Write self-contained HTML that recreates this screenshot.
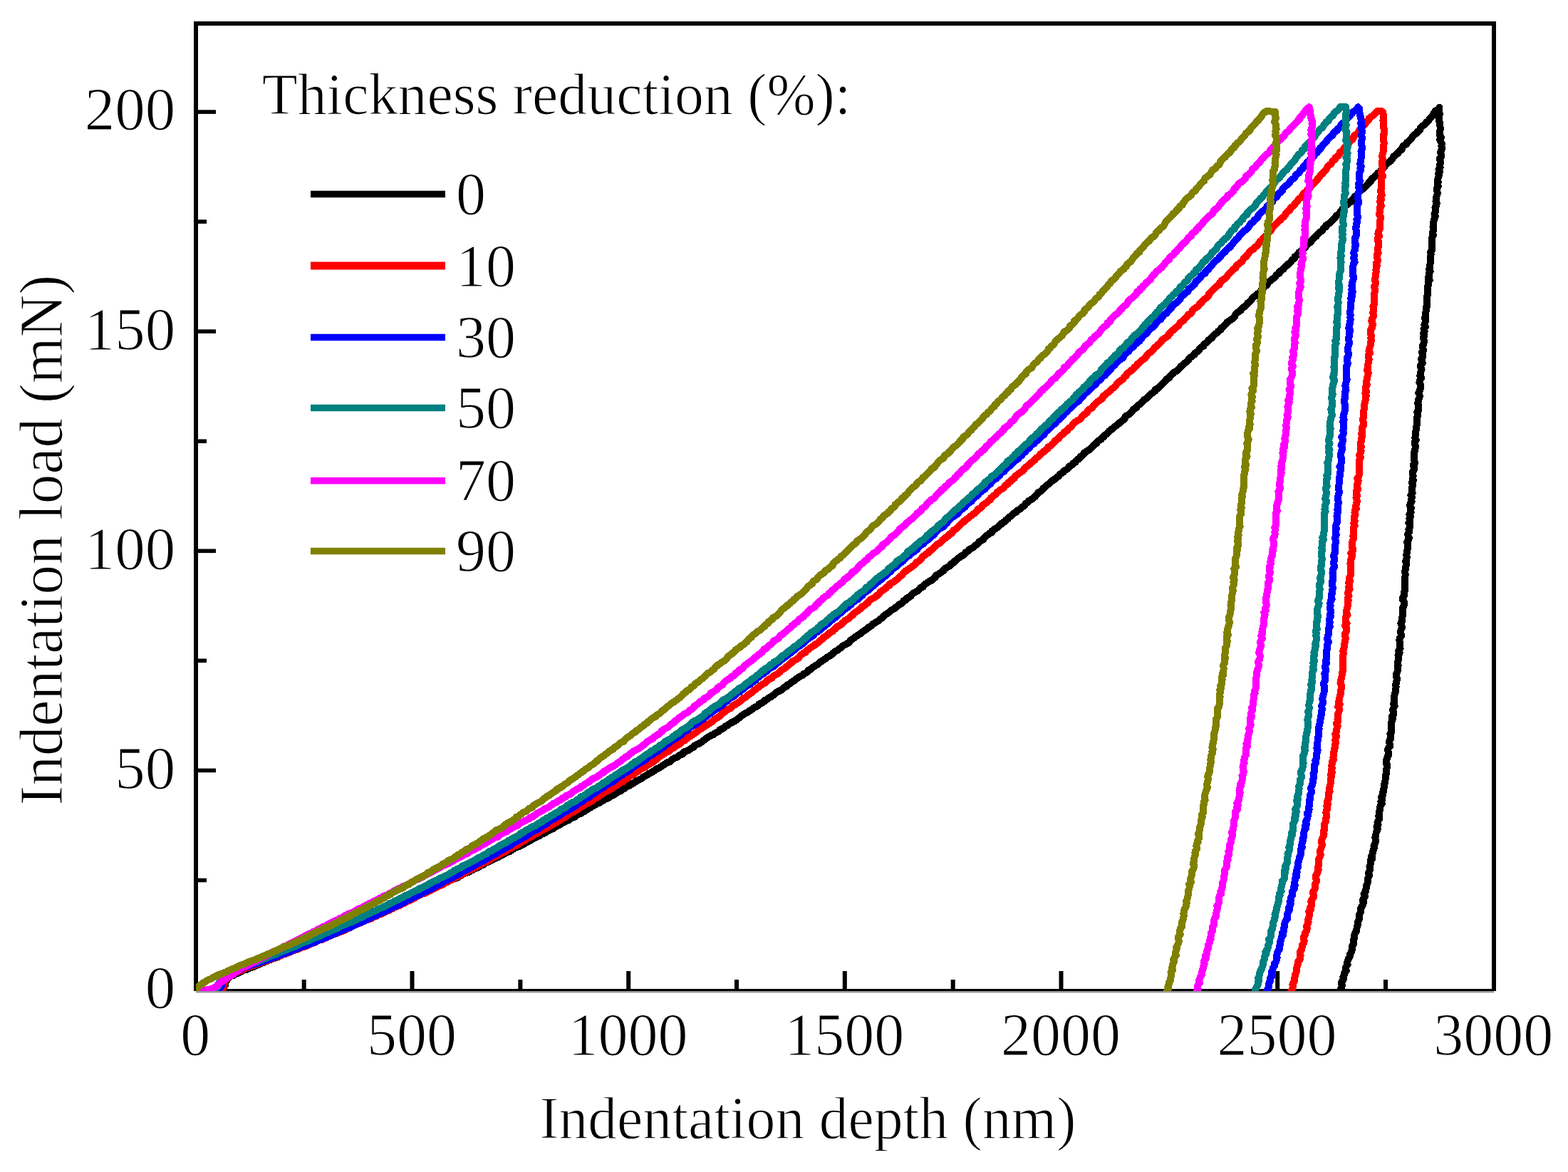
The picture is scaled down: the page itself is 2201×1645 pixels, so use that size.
<!DOCTYPE html>
<html><head><meta charset="utf-8"><title>Indentation load-depth curves</title>
<style>html,body{margin:0;padding:0;background:#fff;}svg{display:block;}svg text{stroke:#fff;stroke-width:1.2px;}</style></head>
<body>
<svg width="2201" height="1645" viewBox="0 0 2201 1645">
<rect x="0" y="0" width="2201" height="1645" fill="#ffffff"/>
<defs><clipPath id="pa"><rect x="275" y="36" width="1819" height="1355"/></clipPath></defs>

<g fill="#000">
<rect x="272" y="30" width="6" height="1361"/>
<rect x="272" y="30" width="1828" height="6"/>
<rect x="2094" y="30" width="6" height="1361"/>
<rect x="272" y="1388" width="1828" height="3"/>
</g>
<rect x="275" y="1391" width="1822" height="2.5" fill="#999"/>
<g fill="#000">
<rect x="278" y="1078.6" width="25" height="5.6"/>
<rect x="278" y="770.5" width="25" height="5.6"/>
<rect x="278" y="462.4" width="25" height="5.6"/>
<rect x="278" y="154.3" width="25" height="5.6"/>
<rect x="278" y="1232.7" width="12" height="5.6"/>
<rect x="278" y="924.5" width="12" height="5.6"/>
<rect x="278" y="616.5" width="12" height="5.6"/>
<rect x="278" y="308.3" width="12" height="5.6"/>
<rect x="575.5" y="1363" width="6" height="26"/>
<rect x="879.2" y="1363" width="6" height="26"/>
<rect x="1182.8" y="1363" width="6" height="26"/>
<rect x="1486.5" y="1363" width="6" height="26"/>
<rect x="1790.2" y="1363" width="6" height="26"/>
<rect x="423.7" y="1375" width="6" height="14"/>
<rect x="727.4" y="1375" width="6" height="14"/>
<rect x="1031.0" y="1375" width="6" height="14"/>
<rect x="1334.7" y="1375" width="6" height="14"/>
<rect x="1638.3" y="1375" width="6" height="14"/>
<rect x="1942.0" y="1375" width="6" height="14"/>
</g>
<g clip-path="url(#pa)" fill="none" stroke-width="10" stroke-linejoin="round" stroke-linecap="round" shape-rendering="crispEdges">
<path d="M290.0,1392.0 L293.0,1391.9 L296.0,1391.8 L299.2,1391.6 L301.4,1391.5 L305.7,1391.4 L308.4,1391.3 L311.4,1391.1 L314.4,1391.0 L314.0,1388.1 L314.4,1385.1 L316.2,1382.1 L314.8,1379.2 L318.0,1376.6 L319.3,1374.3 L321.5,1372.1 L322.9,1370.3 L327.2,1369.1 L328.8,1367.9 L331.8,1366.6 L334.9,1365.4 L338.1,1364.1 L339.0,1362.9 L341.5,1361.8 L346.6,1360.7 L347.5,1359.6 L351.6,1358.5 L354.8,1357.4 L357.6,1356.3 L359.4,1355.2 L362.9,1354.1 L364.1,1353.0 L367.0,1351.9 L370.3,1350.8 L372.2,1349.7 L375.6,1348.6 L377.9,1347.5 L381.5,1346.3 L383.8,1345.2 L387.0,1344.1 L391.0,1343.0 L393.5,1341.8 L394.6,1340.7 L398.3,1339.6 L400.2,1338.5 L405.1,1337.3 L406.4,1336.2 L408.6,1335.1 L413.3,1333.9 L414.4,1332.8 L417.7,1331.6 L421.5,1330.5 L422.8,1329.4 L425.9,1328.2 L428.3,1327.1 L430.8,1325.9 L433.9,1324.7 L437.0,1323.6 L439.5,1322.4 L442.6,1321.3 L445.4,1320.1 L449.1,1319.0 L451.2,1317.8 L453.2,1316.6 L456.6,1315.4 L458.6,1314.3 L462.7,1313.1 L463.7,1311.9 L467.7,1310.7 L469.2,1309.6 L473.7,1308.4 L475.6,1307.2 L477.8,1306.0 L482.0,1304.8 L483.0,1303.6 L486.8,1302.4 L490.3,1301.3 L493.2,1300.1 L494.0,1298.9 L498.0,1297.7 L501.4,1296.5 L502.5,1295.3 L506.7,1294.0 L509.4,1292.8 L511.9,1291.6 L513.5,1290.4 L517.8,1289.2 L519.5,1288.0 L523.2,1286.8 L524.7,1285.5 L528.5,1284.3 L530.0,1283.1 L532.8,1281.9 L535.5,1280.6 L538.2,1279.4 L540.8,1278.2 L544.1,1276.9 L546.6,1275.7 L551.2,1274.5 L553.6,1273.2 L555.1,1272.0 L557.1,1270.7 L560.3,1269.5 L564.6,1268.2 L567.0,1267.0 L569.7,1265.7 L572.9,1264.5 L575.0,1263.2 L577.0,1262.0 L579.2,1260.7 L581.9,1259.4 L585.6,1258.2 L588.3,1256.9 L590.3,1255.6 L592.4,1254.4 L596.3,1253.1 L600.0,1251.8 L600.7,1250.5 L605.2,1249.2 L606.4,1248.0 L610.5,1246.7 L612.3,1245.4 L614.9,1244.1 L617.6,1242.8 L620.3,1241.5 L623.1,1240.2 L626.4,1238.9 L628.2,1237.6 L630.7,1236.3 L633.2,1235.0 L636.1,1233.7 L640.6,1232.4 L643.4,1231.1 L644.1,1229.8 L647.7,1228.5 L650.1,1227.1 L652.2,1225.8 L656.6,1224.5 L659.2,1223.2 L661.5,1221.8 L664.5,1220.5 L666.1,1219.2 L669.9,1217.9 L672.9,1216.5 L674.9,1215.2 L678.1,1213.8 L680.0,1212.5 L681.7,1211.2 L685.1,1209.8 L687.1,1208.5 L690.8,1207.1 L692.7,1205.8 L696.2,1204.4 L699.8,1203.0 L701.1,1201.7 L704.8,1200.3 L707.0,1199.0 L708.2,1197.6 L712.1,1196.2 L715.9,1194.9 L718.0,1193.5 L720.0,1192.1 L721.8,1190.7 L724.4,1189.4 L729.2,1188.0 L731.0,1186.6 L734.3,1185.2 L736.7,1183.8 L739.4,1182.4 L741.4,1181.0 L744.8,1179.7 L745.9,1178.3 L749.5,1176.9 L752.1,1175.5 L754.7,1174.1 L758.1,1172.7 L759.5,1171.2 L763.2,1169.8 L766.0,1168.4 L768.2,1167.0 L770.2,1165.6 L773.9,1164.2 L776.9,1162.8 L777.6,1161.3 L780.6,1159.9 L783.6,1158.5 L786.4,1157.1 L788.1,1155.6 L791.5,1154.2 L794.0,1152.8 L798.0,1151.3 L799.7,1149.9 L802.1,1148.4 L805.7,1147.0 L808.2,1145.5 L809.8,1144.1 L813.2,1142.6 L816.1,1141.2 L818.5,1139.7 L821.0,1138.3 L823.4,1136.8 L825.0,1135.4 L828.3,1133.9 L830.6,1132.4 L833.1,1131.0 L835.9,1129.5 L838.0,1128.0 L841.8,1126.5 L843.2,1125.1 L847.1,1123.6 L848.4,1122.1 L852.4,1120.6 L855.4,1119.1 L857.1,1117.7 L860.1,1116.2 L863.1,1114.7 L864.9,1113.2 L867.2,1111.7 L871.2,1110.2 L871.7,1108.7 L875.6,1107.2 L878.2,1105.7 L879.6,1104.2 L883.9,1102.6 L884.6,1101.1 L888.8,1099.6 L890.8,1098.1 L892.7,1096.6 L896.0,1095.1 L899.2,1093.5 L901.9,1092.0 L902.8,1090.5 L906.3,1089.0 L908.9,1087.4 L910.5,1085.9 L914.6,1084.4 L916.3,1082.8 L919.4,1081.3 L920.8,1079.7 L924.8,1078.2 L927.4,1076.6 L929.3,1075.1 L932.2,1073.5 L933.9,1072.0 L936.1,1070.4 L940.8,1068.9 L942.3,1067.3 L943.8,1065.8 L946.6,1064.2 L950.9,1062.6 L952.0,1061.1 L955.4,1059.5 L958.9,1057.9 L959.1,1056.3 L961.7,1054.8 L966.2,1053.2 L968.4,1051.6 L971.3,1050.0 L974.0,1048.4 L974.6,1046.8 L977.4,1045.2 L981.5,1043.7 L984.1,1042.1 L985.7,1040.5 L988.3,1038.9 L990.1,1037.3 L992.5,1035.7 L995.1,1034.1 L997.7,1032.4 L1002.0,1030.8 L1003.6,1029.2 L1006.6,1027.6 L1009.7,1026.0 L1010.2,1024.4 L1014.2,1022.8 L1017.0,1021.1 L1018.2,1019.5 L1021.7,1017.9 L1023.6,1016.3 L1026.4,1014.6 L1029.6,1013.0 L1032.4,1011.4 L1034.7,1009.7 L1037.0,1008.1 L1039.0,1006.4 L1041.1,1004.8 L1043.4,1003.1 L1045.6,1001.5 L1049.3,999.8 L1051.2,998.2 L1054.4,996.5 L1056.9,994.9 L1058.6,993.2 L1062.3,991.6 L1064.8,989.9 L1065.6,988.2 L1069.8,986.6 L1072.4,984.9 L1073.0,983.2 L1077.3,981.6 L1078.3,979.9 L1082.1,978.2 L1084.1,976.5 L1086.4,974.9 L1088.5,973.2 L1090.2,971.5 L1094.1,969.8 L1097.2,968.1 L1099.4,966.4 L1100.8,964.7 L1104.6,963.0 L1105.6,961.3 L1108.6,959.6 L1110.9,957.9 L1113.0,956.2 L1116.4,954.5 L1117.6,952.8 L1120.3,951.1 L1123.1,949.4 L1126.6,947.7 L1128.0,946.0 L1131.8,944.3 L1133.6,942.6 L1134.7,940.8 L1138.5,939.1 L1140.2,937.4 L1142.6,935.7 L1145.2,934.0 L1148.3,932.2 L1150.0,930.5 L1151.8,928.8 L1155.3,927.0 L1157.7,925.3 L1160.2,923.6 L1162.1,921.8 L1165.6,920.1 L1167.9,918.3 L1169.4,916.6 L1171.7,914.8 L1175.1,913.1 L1177.4,911.3 L1179.7,909.6 L1182.0,907.8 L1183.9,906.1 L1187.6,904.3 L1190.4,902.6 L1192.6,900.8 L1193.5,899.1 L1195.8,897.3 L1199.3,895.5 L1200.8,893.8 L1203.3,892.0 L1206.3,890.2 L1209.4,888.4 L1210.6,886.7 L1213.6,884.9 L1216.4,883.1 L1217.9,881.3 L1221.3,879.6 L1224.1,877.8 L1225.0,876.0 L1228.3,874.2 L1231.2,872.4 L1233.9,870.6 L1235.6,868.8 L1238.9,867.0 L1239.8,865.2 L1241.8,863.4 L1244.9,861.6 L1247.4,859.8 L1249.4,858.0 L1251.4,856.2 L1255.7,854.4 L1257.2,852.6 L1260.1,850.8 L1261.4,849.0 L1265.2,847.2 L1267.5,845.4 L1268.0,843.6 L1272.1,841.8 L1272.7,839.9 L1276.5,838.1 L1279.0,836.3 L1279.6,834.5 L1282.1,832.6 L1285.7,830.8 L1288.3,829.0 L1290.6,827.2 L1291.6,825.3 L1295.7,823.5 L1296.7,821.7 L1299.0,819.8 L1301.4,818.0 L1304.2,816.1 L1308.0,814.3 L1310.0,812.5 L1312.8,810.6 L1313.1,808.8 L1315.2,806.9 L1318.7,805.1 L1321.1,803.2 L1324.1,801.4 L1324.7,799.5 L1327.1,797.7 L1330.5,795.8 L1333.6,794.0 L1334.4,792.1 L1337.8,790.2 L1339.6,788.4 L1341.6,786.5 L1344.0,784.6 L1346.4,782.8 L1348.7,780.9 L1352.4,779.0 L1354.7,777.2 L1355.5,775.3 L1359.5,773.4 L1360.2,771.5 L1363.5,769.7 L1366.9,767.8 L1368.5,765.9 L1371.3,764.0 L1373.3,762.1 L1374.5,760.3 L1378.3,758.4 L1380.9,756.5 L1381.7,754.6 L1383.7,752.7 L1386.4,750.8 L1388.6,748.9 L1392.5,747.0 L1392.7,745.1 L1395.4,743.2 L1398.5,741.3 L1401.6,739.4 L1403.0,737.5 L1405.5,735.6 L1407.2,733.7 L1410.7,731.8 L1412.1,729.9 L1415.1,728.0 L1416.0,726.1 L1419.8,724.2 L1421.0,722.3 L1423.6,720.3 L1426.7,718.4 L1428.2,716.5 L1431.9,714.6 L1433.8,712.7 L1436.5,710.8 L1438.6,708.8 L1439.5,706.9 L1442.9,705.0 L1443.8,703.1 L1447.9,701.1 L1449.9,699.2 L1452.7,697.3 L1453.8,695.3 L1456.1,693.4 L1457.3,691.5 L1460.8,689.5 L1462.9,687.6 L1464.1,685.7 L1467.1,683.7 L1468.7,681.8 L1471.5,679.8 L1473.4,677.9 L1476.0,675.9 L1478.0,674.0 L1481.4,672.0 L1483.3,670.1 L1486.7,668.1 L1487.4,666.2 L1490.4,664.2 L1492.8,662.3 L1494.4,660.3 L1498.4,658.4 L1500.2,656.4 L1500.9,654.4 L1505.1,652.5 L1506.1,650.5 L1509.6,648.6 L1511.0,646.6 L1513.4,644.6 L1515.9,642.7 L1516.9,640.7 L1520.1,638.7 L1521.3,636.7 L1523.3,634.8 L1526.3,632.8 L1529.8,630.8 L1531.8,628.8 L1533.3,626.9 L1535.1,624.9 L1538.1,622.9 L1540.1,620.9 L1541.3,618.9 L1545.2,617.0 L1546.7,615.0 L1549.2,613.0 L1550.5,611.0 L1553.2,609.0 L1555.4,607.0 L1557.0,605.0 L1560.0,603.0 L1562.1,601.0 L1564.4,599.0 L1567.1,597.1 L1570.0,595.1 L1571.8,593.1 L1574.4,591.1 L1577.1,589.1 L1579.1,587.1 L1579.3,585.0 L1581.8,583.0 L1585.9,581.0 L1587.3,579.0 L1589.3,577.0 L1590.6,575.0 L1594.0,573.0 L1596.0,571.0 L1597.8,569.0 L1600.5,567.0 L1602.3,564.9 L1605.0,562.9 L1606.1,560.9 L1610.0,558.9 L1611.8,556.9 L1613.9,554.9 L1616.0,552.8 L1618.5,550.8 L1621.4,548.8 L1621.6,546.8 L1626.1,544.7 L1627.5,542.7 L1629.9,540.7 L1632.0,538.6 L1634.3,536.6 L1635.9,534.6 L1637.2,532.6 L1641.2,530.5 L1642.0,528.5 L1644.3,526.4 L1646.6,524.4 L1648.2,522.4 L1652.3,520.3 L1654.5,518.3 L1656.3,516.2 L1657.5,514.2 L1660.6,512.2 L1662.3,510.1 L1665.1,508.1 L1667.8,506.0 L1668.3,504.0 L1670.7,501.9 L1673.5,499.9 L1676.5,497.8 L1677.1,495.8 L1680.5,493.7 L1683.2,491.7 L1683.9,489.6 L1686.3,487.6 L1689.7,485.5 L1689.8,483.4 L1692.8,481.4 L1695.1,479.3 L1696.6,477.3 L1699.8,475.2 L1701.9,473.1 L1703.0,471.1 L1705.2,469.0 L1708.4,467.0 L1710.0,464.9 L1713.4,462.8 L1714.1,460.8 L1716.6,458.7 L1718.6,456.6 L1721.1,454.5 L1722.5,452.5 L1725.2,450.4 L1728.8,448.3 L1730.8,446.3 L1733.2,444.2 L1734.0,442.1 L1735.3,440.0 L1738.0,437.9 L1741.2,435.9 L1743.1,433.8 L1744.9,431.7 L1747.8,429.6 L1750.1,427.5 L1751.2,425.5 L1754.1,423.4 L1756.6,421.3 L1757.2,419.2 L1759.1,417.1 L1762.9,415.0 L1764.5,412.9 L1767.7,410.9 L1769.3,408.8 L1771.2,406.7 L1773.0,404.6 L1774.7,402.5 L1778.1,400.4 L1779.1,398.3 L1780.6,396.2 L1783.3,394.1 L1785.1,392.0 L1788.6,389.9 L1790.7,387.8 L1791.6,385.7 L1795.6,383.6 L1796.0,381.5 L1799.2,379.4 L1801.9,377.3 L1803.3,375.2 L1806.0,373.1 L1808.0,371.0 L1810.3,368.9 L1812.4,366.8 L1814.0,364.7 L1817.2,362.6 L1817.4,360.5 L1819.9,358.4 L1822.6,356.3 L1823.6,354.2 L1826.6,352.1 L1828.9,349.9 L1831.6,347.8 L1833.2,345.7 L1834.3,343.6 L1837.3,341.5 L1840.2,339.4 L1840.9,337.3 L1843.8,335.1 L1845.9,333.0 L1848.1,330.9 L1849.4,328.8 L1851.6,326.7 L1854.8,324.6 L1856.8,322.4 L1858.2,320.3 L1861.5,318.2 L1861.7,316.1 L1865.0,314.0 L1867.5,311.8 L1869.8,309.7 L1871.8,307.6 L1874.0,305.4 L1875.5,303.3 L1878.1,301.2 L1880.1,299.1 L1881.9,296.9 L1884.6,294.8 L1884.9,292.7 L1887.6,290.5 L1889.2,288.4 L1892.3,286.3 L1894.9,284.1 L1897.0,282.0 L1898.2,279.9 L1901.9,277.7 L1901.9,275.6 L1905.6,273.4 L1906.4,271.3 L1908.2,269.1 L1910.6,267.0 L1913.5,264.9 L1915.2,262.7 L1917.6,260.6 L1920.1,258.4 L1921.3,256.3 L1924.7,254.1 L1924.9,252.0 L1927.2,249.8 L1929.8,247.7 L1931.9,245.5 L1933.7,243.3 L1937.4,241.2 L1938.3,239.0 L1940.7,236.9 L1943.2,234.7 L1943.8,232.5 L1945.7,230.4 L1948.7,228.2 L1952.0,226.0 L1954.0,223.9 L1955.3,221.7 L1956.4,219.5 L1959.0,217.4 L1962.2,215.2 L1963.1,213.0 L1966.4,210.8 L1968.4,208.7 L1968.5,206.5 L1970.6,204.3 L1974.3,202.1 L1975.1,199.9 L1977.8,197.8 L1979.6,195.6 L1981.8,193.4 L1983.4,191.2 L1985.6,189.0 L1988.7,186.8 L1990.1,184.6 L1993.2,182.4 L1993.5,180.2 L1995.6,178.1 L1998.2,175.9 L2001.2,173.7 L2002.3,171.5 L2005.4,169.3 L2006.6,167.1 L2009.0,164.8 L2011.0,162.5 L2012.2,160.2 L2013.3,157.9 L2015.2,155.6 L2019.2,153.3 L2020.4,151.0 L2020.0,154.0 L2020.1,157.0 L2021.0,160.0 L2019.9,163.0 L2020.4,166.0 L2020.0,169.0 L2020.8,172.0 L2021.4,175.0 L2021.5,178.0 L2021.8,181.0 L2021.1,184.0 L2021.2,187.0 L2021.0,190.0 L2022.8,193.0 L2021.2,196.0 L2022.6,199.0 L2023.8,202.0 L2023.4,204.9 L2024.1,207.9 L2023.3,210.9 L2022.0,213.9 L2023.0,216.9 L2023.0,219.9 L2020.7,222.9 L2021.7,225.9 L2022.2,228.8 L2020.6,231.8 L2021.7,234.8 L2019.5,237.8 L2021.0,240.8 L2019.1,243.8 L2019.7,246.7 L2018.8,249.7 L2017.9,252.7 L2018.7,255.7 L2017.8,258.7 L2018.7,261.7 L2016.9,264.7 L2016.8,267.6 L2017.9,270.6 L2017.2,273.6 L2016.1,276.6 L2016.1,279.6 L2015.5,282.6 L2016.7,285.6 L2016.1,288.5 L2014.5,291.5 L2014.8,294.5 L2014.7,297.5 L2013.5,300.5 L2014.9,303.5 L2013.7,306.5 L2012.9,309.4 L2012.0,312.4 L2011.7,315.4 L2011.5,318.4 L2012.0,321.4 L2011.7,324.4 L2010.9,327.4 L2011.9,330.3 L2010.4,333.3 L2010.0,336.3 L2009.6,339.3 L2010.0,342.3 L2010.4,345.3 L2009.8,348.3 L2010.0,351.3 L2007.9,354.2 L2008.6,357.2 L2008.2,360.2 L2008.2,363.2 L2007.7,366.2 L2007.9,369.2 L2006.9,372.2 L2007.1,375.2 L2006.1,378.1 L2007.7,381.1 L2005.6,384.1 L2006.3,387.1 L2004.8,390.1 L2006.7,393.1 L2004.5,396.1 L2005.0,399.1 L2004.2,402.1 L2004.4,405.0 L2003.8,408.0 L2003.7,411.0 L2004.0,414.0 L2002.9,417.0 L2003.5,420.0 L2003.0,423.0 L2002.8,426.0 L2003.5,429.0 L2001.7,431.9 L2002.1,434.9 L2001.5,437.9 L2000.5,440.9 L2001.3,443.9 L1999.8,446.9 L2001.3,449.9 L2000.4,452.9 L1999.4,455.9 L2001.0,458.8 L1998.5,461.8 L1999.6,464.8 L1998.1,467.8 L1999.5,470.8 L1997.7,473.8 L1998.6,476.8 L1999.0,479.8 L1998.3,482.8 L1996.9,485.7 L1997.4,488.7 L1998.0,491.7 L1995.8,494.7 L1997.5,497.7 L1997.4,500.7 L1995.1,503.7 L1996.2,506.7 L1996.8,509.7 L1994.3,512.7 L1994.3,515.6 L1995.6,518.6 L1994.5,521.6 L1994.4,524.6 L1993.3,527.6 L1995.0,530.6 L1993.2,533.6 L1992.4,536.6 L1993.8,539.6 L1994.1,542.6 L1993.8,545.6 L1992.7,548.5 L1991.3,551.5 L1992.6,554.5 L1992.6,557.5 L1991.3,560.5 L1990.7,563.5 L1990.1,566.5 L1991.4,569.5 L1991.1,572.5 L1991.2,575.5 L1989.3,578.4 L1990.1,581.4 L1989.8,584.4 L1988.8,587.4 L1989.5,590.4 L1989.1,593.4 L1988.8,596.4 L1988.0,599.4 L1987.9,602.4 L1987.3,605.4 L1987.1,608.4 L1986.8,611.3 L1986.3,614.3 L1987.8,617.3 L1985.8,620.3 L1985.8,623.3 L1986.9,626.3 L1986.6,629.3 L1985.9,632.3 L1985.2,635.3 L1984.7,638.3 L1984.9,641.3 L1985.2,644.3 L1985.5,647.2 L1985.8,650.2 L1983.6,653.2 L1984.9,656.2 L1985.0,659.2 L1982.8,662.2 L1982.9,665.2 L1983.6,668.2 L1983.2,671.2 L1983.8,674.2 L1981.7,677.2 L1983.5,680.1 L1982.3,683.1 L1981.6,686.1 L1981.9,689.1 L1982.6,692.1 L1980.4,695.1 L1981.9,698.1 L1981.1,701.1 L1981.6,704.1 L1979.6,707.1 L1979.0,710.1 L1980.8,713.1 L1980.2,716.0 L1980.6,719.0 L1978.4,722.0 L1980.0,725.0 L1978.3,728.0 L1979.3,731.0 L1977.4,734.0 L1979.2,737.0 L1979.0,740.0 L1977.4,743.0 L1978.5,746.0 L1976.3,749.0 L1976.5,751.9 L1977.8,754.9 L1976.9,757.9 L1975.2,760.9 L1976.2,763.9 L1975.9,766.9 L1975.9,769.9 L1975.3,772.9 L1974.9,775.9 L1974.3,778.9 L1974.8,781.9 L1974.2,784.9 L1973.2,787.8 L1974.4,790.8 L1973.7,793.8 L1973.1,796.8 L1972.6,799.8 L1972.3,802.8 L1972.6,805.8 L1972.5,808.8 L1972.3,811.8 L1971.8,814.8 L1972.5,817.8 L1971.5,820.8 L1972.4,823.7 L1971.8,826.7 L1971.6,829.7 L1970.6,832.7 L1971.4,835.7 L1969.2,838.7 L1969.1,841.7 L1971.0,844.7 L1970.6,847.7 L1970.6,850.7 L1968.9,853.6 L1969.4,856.6 L1969.4,859.6 L1969.5,862.6 L1968.5,865.6 L1968.4,868.6 L1968.0,871.6 L1966.4,874.6 L1967.4,877.6 L1967.9,880.6 L1966.8,883.5 L1965.9,886.5 L1966.6,889.5 L1967.1,892.5 L1965.0,895.5 L1964.3,898.5 L1965.1,901.5 L1964.5,904.5 L1964.5,907.5 L1965.5,910.4 L1963.2,913.4 L1964.6,916.4 L1962.5,919.4 L1962.6,922.4 L1962.7,925.4 L1962.4,928.4 L1961.8,931.4 L1962.6,934.3 L1961.6,937.3 L1961.9,940.3 L1961.4,943.3 L1959.9,946.3 L1959.6,949.3 L1961.2,952.3 L1960.5,955.2 L1960.4,958.2 L1959.0,961.2 L1959.6,964.2 L1959.3,967.2 L1959.4,970.2 L1958.1,973.2 L1957.3,976.1 L1956.5,979.1 L1956.5,982.1 L1957.5,985.1 L1955.9,988.1 L1957.6,991.1 L1956.0,994.0 L1954.9,997.0 L1956.2,1000.0 L1956.0,1003.0 L1953.6,1006.0 L1954.8,1008.9 L1953.8,1011.9 L1953.0,1014.9 L1953.2,1017.9 L1953.4,1020.9 L1952.6,1023.8 L1953.4,1026.8 L1951.4,1029.8 L1952.5,1032.8 L1952.4,1035.8 L1951.0,1038.7 L1949.9,1041.7 L1950.8,1044.7 L1950.9,1047.7 L1948.4,1050.6 L1948.2,1053.6 L1949.3,1056.6 L1949.2,1059.6 L1947.5,1062.6 L1946.6,1065.5 L1946.0,1068.5 L1945.8,1071.5 L1947.5,1074.5 L1946.7,1077.4 L1946.2,1080.4 L1945.6,1083.4 L1945.8,1086.3 L1944.5,1089.3 L1944.5,1092.3 L1944.5,1095.3 L1944.2,1098.2 L1942.8,1101.2 L1943.2,1104.2 L1942.4,1107.1 L1942.5,1110.1 L1940.7,1113.1 L1941.0,1116.0 L1939.2,1119.0 L1940.4,1122.0 L1938.4,1124.9 L1939.8,1127.9 L1937.9,1130.9 L1936.6,1133.8 L1937.0,1136.8 L1935.7,1139.8 L1936.4,1142.7 L1935.3,1145.7 L1936.5,1148.6 L1934.7,1151.6 L1933.5,1154.6 L1934.6,1157.5 L1932.5,1160.5 L1933.7,1163.4 L1932.7,1166.4 L1931.6,1169.4 L1931.2,1172.3 L1930.4,1175.3 L1930.6,1178.2 L1930.8,1181.2 L1930.0,1184.1 L1928.5,1187.1 L1929.0,1190.0 L1927.8,1193.0 L1926.7,1195.9 L1926.5,1198.9 L1925.2,1201.8 L1926.4,1204.8 L1923.9,1207.7 L1924.2,1210.7 L1923.5,1213.6 L1922.5,1216.6 L1923.2,1219.5 L1922.4,1222.5 L1920.7,1225.4 L1922.0,1228.3 L1920.8,1231.3 L1919.7,1234.2 L1920.1,1237.2 L1919.3,1240.1 L1918.2,1243.0 L1918.0,1246.0 L1917.1,1248.9 L1916.8,1251.8 L1914.5,1254.8 L1915.9,1257.7 L1914.6,1260.6 L1912.6,1263.6 L1914.1,1266.5 L1913.2,1269.4 L1911.6,1272.4 L1910.0,1275.3 L1910.5,1278.2 L1909.3,1281.1 L1908.0,1284.1 L1908.3,1287.0 L1908.0,1289.9 L1906.7,1292.8 L1905.6,1295.7 L1905.8,1298.7 L1904.6,1301.6 L1904.4,1304.5 L1903.9,1307.4 L1901.9,1310.3 L1900.9,1313.2 L1901.2,1316.1 L1900.1,1319.1 L1899.9,1322.0 L1899.9,1324.9 L1898.2,1327.8 L1898.3,1330.7 L1897.7,1333.6 L1896.8,1336.5 L1895.0,1339.4 L1894.9,1342.3 L1893.2,1345.2 L1891.9,1348.1 L1891.2,1351.0 L1891.6,1353.9 L1889.5,1356.8 L1888.6,1359.7 L1889.7,1362.6 L1887.3,1365.4 L1886.8,1368.3 L1885.4,1371.2 L1885.8,1374.1 L1884.2,1377.0 L1882.9,1379.9 L1883.8,1382.7 L1883.4,1385.6 L1881.7,1388.5 L1880.7,1391.4 L1879.8,1394.2 L1878.9,1397.1" stroke="#000000"/>
<path d="M312.0,1392.0 L312.6,1389.1 L313.1,1386.1 L314.5,1383.2 L314.7,1380.2 L315.1,1377.3 L317.4,1374.9 L317.7,1372.9 L321.2,1371.0 L323.5,1369.3 L325.2,1367.9 L328.0,1366.6 L330.3,1365.2 L333.6,1363.8 L337.6,1362.5 L339.8,1361.1 L343.0,1360.0 L344.6,1359.0 L346.7,1358.1 L351.5,1357.1 L353.4,1356.1 L356.8,1355.1 L358.6,1354.0 L361.5,1353.0 L364.5,1352.0 L366.8,1351.0 L369.5,1350.0 L373.7,1348.9 L376.7,1347.9 L377.9,1346.9 L382.6,1345.8 L384.0,1344.8 L386.6,1343.7 L390.1,1342.7 L393.9,1341.6 L395.2,1340.6 L398.0,1339.5 L402.4,1338.4 L404.4,1337.4 L407.7,1336.3 L409.6,1335.2 L412.6,1334.1 L415.4,1333.0 L418.9,1332.0 L421.5,1330.9 L422.7,1329.8 L427.2,1328.7 L430.5,1327.6 L433.0,1326.4 L434.4,1325.3 L438.8,1324.2 L441.3,1323.1 L444.0,1322.0 L444.9,1320.8 L447.7,1319.7 L452.7,1318.6 L453.7,1317.4 L457.9,1316.3 L459.4,1315.2 L463.5,1314.0 L464.2,1312.9 L468.1,1311.7 L471.3,1310.5 L474.0,1309.4 L476.8,1308.2 L480.4,1307.0 L482.8,1305.9 L484.9,1304.7 L487.8,1303.5 L491.0,1302.3 L492.7,1301.1 L494.7,1299.9 L497.6,1298.7 L500.4,1297.5 L503.5,1296.3 L506.6,1295.1 L509.0,1293.9 L511.6,1292.7 L514.1,1291.5 L517.7,1290.3 L521.5,1289.0 L522.4,1287.8 L526.0,1286.6 L529.5,1285.3 L530.7,1284.1 L535.0,1282.9 L537.6,1281.6 L539.5,1280.4 L542.9,1279.1 L546.2,1277.9 L547.1,1276.6 L551.4,1275.3 L553.0,1274.1 L554.8,1272.8 L559.3,1271.5 L562.1,1270.3 L563.7,1269.0 L567.4,1267.7 L569.4,1266.4 L571.9,1265.1 L575.4,1263.8 L578.4,1262.5 L580.7,1261.2 L582.7,1259.9 L584.8,1258.6 L587.3,1257.3 L590.0,1256.0 L593.0,1254.7 L597.4,1253.4 L600.0,1252.1 L602.8,1250.7 L604.2,1249.4 L608.0,1248.1 L609.3,1246.8 L613.0,1245.4 L615.1,1244.1 L618.8,1242.7 L621.8,1241.4 L622.7,1240.0 L626.3,1238.7 L627.8,1237.3 L631.1,1236.0 L634.7,1234.6 L636.2,1233.2 L638.7,1231.9 L642.4,1230.5 L645.1,1229.1 L648.3,1227.8 L650.6,1226.4 L653.0,1225.0 L655.3,1223.6 L657.7,1222.2 L661.6,1220.8 L663.7,1219.4 L665.0,1218.0 L669.8,1216.6 L671.1,1215.2 L674.9,1213.8 L676.5,1212.4 L678.4,1211.0 L682.5,1209.6 L685.2,1208.2 L688.0,1206.7 L689.7,1205.3 L692.4,1203.9 L694.7,1202.5 L698.9,1201.0 L700.4,1199.6 L703.1,1198.1 L706.7,1196.7 L708.7,1195.3 L712.1,1193.8 L713.2,1192.4 L716.3,1190.9 L718.7,1189.4 L720.3,1188.0 L724.8,1186.5 L727.4,1185.1 L729.4,1183.6 L732.2,1182.1 L734.1,1180.6 L737.8,1179.2 L738.7,1177.7 L741.2,1176.2 L745.3,1174.7 L747.6,1173.2 L749.9,1171.7 L752.8,1170.3 L755.1,1168.8 L757.6,1167.3 L759.7,1165.8 L763.3,1164.3 L766.9,1162.7 L769.5,1161.2 L770.4,1159.7 L774.7,1158.2 L775.1,1156.7 L779.9,1155.2 L781.0,1153.6 L785.0,1152.1 L786.4,1150.6 L788.1,1149.1 L792.5,1147.5 L795.0,1146.0 L795.6,1144.5 L798.9,1142.9 L801.0,1141.4 L803.8,1139.8 L806.9,1138.3 L810.2,1136.7 L812.5,1135.2 L814.2,1133.6 L816.6,1132.0 L819.9,1130.5 L822.2,1128.9 L825.0,1127.4 L828.1,1125.8 L831.0,1124.2 L832.6,1122.6 L834.0,1121.1 L838.0,1119.5 L841.1,1117.9 L841.8,1116.3 L845.2,1114.7 L847.5,1113.1 L849.6,1111.5 L853.6,1109.9 L855.7,1108.3 L859.2,1106.7 L860.7,1105.1 L864.2,1103.5 L866.4,1101.9 L868.7,1100.3 L870.3,1098.7 L874.2,1097.1 L876.3,1095.5 L877.8,1093.9 L881.3,1092.2 L882.5,1090.6 L885.3,1089.0 L889.2,1087.4 L890.7,1085.7 L892.7,1084.1 L896.3,1082.4 L897.9,1080.8 L900.2,1079.2 L904.4,1077.5 L906.9,1075.9 L907.5,1074.2 L911.5,1072.6 L914.3,1070.9 L917.1,1069.3 L918.6,1067.6 L921.4,1066.0 L922.9,1064.3 L925.0,1062.6 L927.8,1061.0 L929.9,1059.3 L932.4,1057.6 L935.2,1055.9 L939.0,1054.3 L941.0,1052.6 L942.5,1050.9 L946.5,1049.2 L948.4,1047.5 L950.2,1045.9 L954.5,1044.2 L955.5,1042.5 L957.2,1040.8 L961.4,1039.1 L963.6,1037.4 L965.0,1035.7 L967.4,1034.0 L970.8,1032.3 L973.0,1030.6 L975.7,1028.9 L978.4,1027.2 L980.4,1025.4 L982.2,1023.7 L985.6,1022.0 L987.8,1020.3 L990.8,1018.6 L993.9,1016.8 L996.4,1015.1 L998.7,1013.4 L1000.7,1011.7 L1002.5,1009.9 L1005.5,1008.2 L1008.2,1006.5 L1010.9,1004.7 L1012.6,1003.0 L1014.2,1001.2 L1016.9,999.5 L1019.1,997.7 L1021.1,996.0 L1025.0,994.2 L1027.3,992.5 L1028.3,990.7 L1031.6,989.0 L1034.7,987.2 L1037.0,985.5 L1040.0,983.7 L1041.1,981.9 L1043.2,980.2 L1047.1,978.4 L1048.8,976.6 L1051.5,974.8 L1053.7,973.1 L1056.5,971.3 L1057.5,969.5 L1060.3,967.7 L1062.6,966.0 L1065.5,964.2 L1067.2,962.4 L1070.0,960.6 L1073.7,958.8 L1075.1,957.0 L1076.7,955.2 L1079.7,953.4 L1083.7,951.6 L1084.9,949.8 L1086.8,948.0 L1090.7,946.2 L1093.3,944.4 L1095.4,942.6 L1096.8,940.8 L1100.1,939.0 L1102.8,937.2 L1104.1,935.4 L1107.3,933.6 L1109.2,931.7 L1111.2,929.9 L1112.9,928.1 L1116.2,926.3 L1119.4,924.5 L1121.8,922.6 L1122.8,920.8 L1124.5,919.0 L1127.1,917.1 L1131.0,915.3 L1132.0,913.5 L1134.7,911.6 L1137.0,909.8 L1139.2,908.0 L1143.1,906.1 L1144.6,904.3 L1147.8,902.4 L1150.3,900.6 L1151.9,898.8 L1154.8,896.9 L1155.5,895.1 L1158.4,893.2 L1161.7,891.4 L1162.6,889.5 L1166.3,887.6 L1169.2,885.8 L1170.9,883.9 L1173.1,882.1 L1174.2,880.2 L1178.1,878.3 L1181.1,876.5 L1182.1,874.6 L1184.7,872.7 L1186.1,870.9 L1190.1,869.0 L1192.6,867.1 L1194.3,865.2 L1197.1,863.4 L1198.0,861.5 L1200.4,859.6 L1203.7,857.7 L1205.6,855.9 L1208.5,854.0 L1209.4,852.1 L1212.8,850.2 L1215.0,848.3 L1217.7,846.4 L1219.4,844.5 L1221.0,842.6 L1223.5,840.7 L1227.4,838.9 L1230.0,837.0 L1231.8,835.1 L1234.4,833.2 L1235.2,831.3 L1237.7,829.4 L1241.1,827.5 L1243.7,825.6 L1245.0,823.7 L1248.6,821.7 L1248.8,819.8 L1252.1,817.9 L1255.7,816.0 L1257.9,814.1 L1260.0,812.2 L1262.4,810.3 L1264.6,808.4 L1266.9,806.4 L1267.7,804.5 L1269.7,802.6 L1272.8,800.7 L1275.1,798.8 L1278.3,796.8 L1280.4,794.9 L1283.4,793.0 L1285.3,791.1 L1286.6,789.1 L1290.3,787.2 L1292.1,785.3 L1293.9,783.3 L1294.9,781.4 L1298.1,779.5 L1300.3,777.5 L1304.0,775.6 L1304.2,773.7 L1308.1,771.7 L1309.3,769.8 L1312.1,767.8 L1314.0,765.9 L1315.7,764.0 L1319.7,762.0 L1321.5,760.1 L1322.9,758.1 L1325.9,756.2 L1327.8,754.2 L1331.1,752.3 L1332.1,750.3 L1335.8,748.4 L1337.5,746.4 L1338.5,744.4 L1342.2,742.5 L1343.7,740.5 L1345.7,738.6 L1348.0,736.6 L1349.6,734.7 L1352.4,732.7 L1354.3,730.7 L1356.9,728.8 L1359.6,726.8 L1361.3,724.8 L1364.7,722.9 L1367.2,720.9 L1369.7,718.9 L1371.5,717.0 L1372.7,715.0 L1376.5,713.0 L1378.6,711.0 L1379.1,709.1 L1382.3,707.1 L1385.1,705.1 L1387.1,703.1 L1390.3,701.1 L1390.8,699.2 L1393.0,697.2 L1395.5,695.2 L1398.6,693.2 L1399.5,691.2 L1402.2,689.3 L1404.4,687.3 L1408.4,685.3 L1409.8,683.3 L1411.0,681.3 L1414.8,679.3 L1415.3,677.3 L1419.4,675.3 L1419.9,673.3 L1423.8,671.3 L1424.2,669.3 L1426.5,667.4 L1429.0,665.4 L1432.1,663.4 L1435.2,661.4 L1437.5,659.4 L1437.6,657.4 L1440.6,655.4 L1442.9,653.4 L1445.7,651.4 L1447.4,649.3 L1450.4,647.3 L1452.8,645.3 L1454.2,643.3 L1457.3,641.3 L1459.5,639.3 L1460.3,637.3 L1463.8,635.3 L1465.6,633.3 L1468.5,631.3 L1470.8,629.3 L1471.4,627.2 L1475.4,625.2 L1477.1,623.2 L1479.0,621.2 L1480.8,619.2 L1482.9,617.2 L1486.5,615.1 L1487.1,613.1 L1489.6,611.1 L1492.6,609.1 L1493.5,607.1 L1497.0,605.0 L1499.0,603.0 L1500.1,601.0 L1503.7,599.0 L1505.1,596.9 L1506.8,594.9 L1508.6,592.9 L1511.4,590.9 L1515.3,588.8 L1517.4,586.8 L1519.0,584.8 L1520.4,582.7 L1523.9,580.7 L1526.3,578.7 L1526.8,576.6 L1529.2,574.6 L1532.7,572.6 L1534.3,570.5 L1536.2,568.5 L1537.7,566.4 L1540.1,564.4 L1543.0,562.4 L1546.2,560.3 L1547.8,558.3 L1548.5,556.2 L1551.2,554.2 L1553.3,552.1 L1556.4,550.1 L1559.0,548.0 L1560.1,546.0 L1563.6,543.9 L1565.4,541.9 L1567.1,539.8 L1568.3,537.8 L1571.2,535.7 L1574.2,533.7 L1576.7,531.6 L1577.8,529.5 L1581.0,527.5 L1581.2,525.4 L1583.6,523.4 L1586.7,521.3 L1588.8,519.2 L1591.3,517.2 L1592.8,515.1 L1595.6,513.0 L1596.8,511.0 L1599.3,508.9 L1601.4,506.8 L1604.3,504.8 L1607.3,502.7 L1609.1,500.6 L1609.9,498.5 L1611.7,496.5 L1615.3,494.4 L1617.3,492.3 L1619.5,490.2 L1620.3,488.1 L1623.3,486.0 L1625.0,484.0 L1627.9,481.9 L1630.0,479.8 L1630.9,477.7 L1633.4,475.6 L1637.0,473.5 L1639.7,471.4 L1640.5,469.3 L1643.1,467.2 L1643.9,465.1 L1647.3,463.0 L1649.1,460.9 L1652.1,458.8 L1654.7,456.7 L1655.8,454.6 L1657.0,452.5 L1660.7,450.4 L1662.6,448.3 L1664.5,446.2 L1666.7,444.1 L1667.6,442.0 L1671.7,439.9 L1673.0,437.8 L1674.0,435.6 L1676.4,433.5 L1679.5,431.4 L1682.1,429.3 L1683.3,427.2 L1686.3,425.1 L1687.4,422.9 L1689.3,420.8 L1692.3,418.7 L1695.0,416.5 L1696.9,414.4 L1697.0,412.3 L1699.5,410.2 L1701.8,408.0 L1703.7,405.9 L1705.5,403.7 L1707.8,401.6 L1711.9,399.5 L1711.8,397.3 L1713.9,395.2 L1716.0,393.0 L1719.6,390.9 L1722.0,388.7 L1723.2,386.6 L1725.5,384.4 L1727.3,382.3 L1729.6,380.1 L1730.9,378.0 L1734.7,375.8 L1735.0,373.7 L1737.3,371.5 L1740.2,369.3 L1743.3,367.2 L1744.5,365.0 L1745.7,362.9 L1748.4,360.7 L1750.5,358.5 L1752.2,356.3 L1753.4,354.2 L1755.5,352.0 L1759.5,349.8 L1760.5,347.7 L1764.0,345.5 L1765.9,343.3 L1767.4,341.1 L1768.4,338.9 L1772.0,336.7 L1772.9,334.6 L1775.2,332.4 L1778.0,330.2 L1779.8,328.0 L1781.8,325.8 L1784.2,323.6 L1785.2,321.4 L1786.5,319.2 L1788.8,317.0 L1790.5,314.8 L1792.7,312.6 L1795.4,310.4 L1797.9,308.2 L1799.6,306.0 L1802.6,303.8 L1804.1,301.6 L1805.1,299.4 L1807.1,297.2 L1810.9,294.9 L1811.1,292.7 L1812.9,290.5 L1816.7,288.3 L1817.2,286.1 L1819.7,283.8 L1821.6,281.6 L1822.9,279.4 L1826.5,277.2 L1827.7,274.9 L1829.3,272.7 L1831.3,270.5 L1835.0,268.2 L1835.0,266.0 L1838.9,263.8 L1839.6,261.5 L1842.5,259.3 L1843.7,257.1 L1846.7,254.8 L1848.9,252.6 L1850.1,250.3 L1852.6,248.1 L1853.7,245.8 L1856.7,243.6 L1858.1,241.3 L1860.6,239.1 L1862.3,236.8 L1863.2,234.6 L1864.9,232.3 L1868.7,230.1 L1869.5,227.8 L1870.8,225.6 L1874.5,223.3 L1874.8,221.0 L1878.6,218.8 L1880.0,216.5 L1880.5,214.2 L1883.5,212.0 L1886.2,209.7 L1886.7,207.4 L1890.5,205.2 L1892.5,202.9 L1893.9,200.6 L1894.1,198.3 L1898.1,196.1 L1899.7,193.8 L1900.1,191.5 L1902.5,189.2 L1906.0,186.9 L1907.7,184.7 L1908.2,182.4 L1911.3,180.1 L1912.4,177.8 L1915.4,175.5 L1916.7,173.2 L1917.8,170.9 L1921.1,168.6 L1921.5,166.4 L1924.6,164.1 L1927.5,162.0 L1929.9,160.0 L1931.9,157.9 L1933.2,156.0 L1936.7,156.0 L1939.0,156.0 L1940.9,157.3 L1941.8,160.3 L1941.6,163.2 L1942.1,166.2 L1941.4,169.2 L1942.2,172.2 L1942.4,175.2 L1942.0,178.2 L1942.9,181.2 L1942.7,184.2 L1943.1,187.2 L1941.8,190.2 L1942.1,193.2 L1941.6,196.2 L1942.5,199.2 L1942.6,202.2 L1942.0,205.2 L1942.5,208.2 L1941.5,211.2 L1941.5,214.2 L1940.5,217.2 L1940.1,220.2 L1941.1,223.2 L1940.2,226.2 L1940.5,229.2 L1940.3,232.2 L1940.7,235.2 L1940.1,238.2 L1939.3,241.2 L1939.5,244.2 L1941.2,247.2 L1939.1,250.2 L1939.4,253.2 L1938.9,256.2 L1939.5,259.2 L1939.3,262.2 L1938.7,265.2 L1937.9,268.2 L1939.4,271.2 L1939.7,274.2 L1937.5,277.2 L1939.0,280.2 L1937.1,283.1 L1937.8,286.1 L1938.8,289.1 L1936.7,292.1 L1937.5,295.1 L1936.9,298.1 L1935.9,301.1 L1937.9,304.1 L1937.7,307.1 L1937.3,310.1 L1937.4,313.1 L1937.2,316.1 L1936.6,319.1 L1936.7,322.1 L1934.8,325.1 L1934.4,328.1 L1936.2,331.1 L1934.1,334.0 L1933.7,337.0 L1935.5,340.0 L1935.0,343.0 L1935.1,346.0 L1933.6,349.0 L1934.2,352.0 L1934.6,355.0 L1932.5,358.0 L1933.2,361.0 L1933.6,364.0 L1933.6,367.0 L1931.7,370.0 L1932.9,373.0 L1932.0,375.9 L1931.4,378.9 L1931.7,381.9 L1930.6,384.9 L1931.0,387.9 L1930.1,390.9 L1930.0,393.9 L1931.5,396.9 L1930.2,399.9 L1928.9,402.9 L1930.0,405.9 L1930.0,408.8 L1929.2,411.8 L1929.0,414.8 L1928.7,417.8 L1929.0,420.8 L1928.6,423.8 L1929.1,426.8 L1927.4,429.8 L1927.9,432.8 L1928.4,435.8 L1927.2,438.7 L1927.7,441.7 L1927.7,444.7 L1925.9,447.7 L1925.2,450.7 L1926.6,453.7 L1926.6,456.7 L1925.9,459.7 L1924.3,462.7 L1924.3,465.7 L1924.1,468.6 L1924.9,471.6 L1924.3,474.6 L1924.9,477.6 L1923.9,480.6 L1924.2,483.6 L1923.1,486.6 L1922.3,489.6 L1921.5,492.6 L1923.2,495.5 L1920.8,498.5 L1921.0,501.5 L1921.7,504.5 L1921.1,507.5 L1920.6,510.5 L1919.6,513.5 L1920.3,516.5 L1918.9,519.4 L1920.6,522.4 L1920.5,525.4 L1919.5,528.4 L1919.2,531.4 L1918.2,534.4 L1918.0,537.4 L1919.0,540.4 L1917.1,543.4 L1916.6,546.3 L1918.2,549.3 L1916.4,552.3 L1917.7,555.3 L1917.2,558.3 L1916.9,561.3 L1916.1,564.3 L1915.4,567.3 L1914.8,570.2 L1915.4,573.2 L1914.3,576.2 L1913.5,579.2 L1914.5,582.2 L1914.4,585.2 L1912.9,588.2 L1913.5,591.2 L1913.9,594.1 L1913.9,597.1 L1912.2,600.1 L1911.8,603.1 L1912.4,606.1 L1911.2,609.1 L1912.5,612.1 L1911.1,615.1 L1911.2,618.0 L1910.2,621.0 L1909.9,624.0 L1910.8,627.0 L1909.8,630.0 L1910.7,633.0 L1909.5,636.0 L1908.2,639.0 L1910.1,642.0 L1908.5,644.9 L1907.8,647.9 L1908.4,650.9 L1908.1,653.9 L1907.7,656.9 L1907.8,659.9 L1908.1,662.9 L1907.8,665.9 L1907.3,668.8 L1905.2,671.8 L1906.8,674.8 L1905.9,677.8 L1904.5,680.8 L1905.1,683.8 L1906.0,686.8 L1903.9,689.8 L1903.6,692.8 L1905.1,695.7 L1903.5,698.7 L1904.6,701.7 L1904.6,704.7 L1903.9,707.7 L1902.6,710.7 L1903.9,713.7 L1901.8,716.7 L1901.5,719.7 L1902.5,722.6 L1901.0,725.6 L1900.6,728.6 L1901.7,731.6 L1900.1,734.6 L1901.6,737.6 L1900.0,740.6 L1899.5,743.6 L1899.5,746.6 L1900.4,749.5 L1899.2,752.5 L1900.3,755.5 L1898.8,758.5 L1898.0,761.5 L1898.4,764.5 L1897.6,767.5 L1899.0,770.5 L1898.9,773.5 L1896.4,776.5 L1898.3,779.4 L1897.4,782.4 L1896.2,785.4 L1895.8,788.4 L1895.4,791.4 L1896.1,794.4 L1896.4,797.4 L1896.3,800.4 L1896.2,803.4 L1896.2,806.4 L1894.8,809.4 L1893.7,812.3 L1895.3,815.3 L1893.1,818.3 L1894.5,821.3 L1893.1,824.3 L1894.6,827.3 L1892.5,830.3 L1892.1,833.3 L1893.5,836.3 L1891.8,839.3 L1892.8,842.2 L1891.7,845.2 L1892.2,848.2 L1891.5,851.2 L1890.8,854.2 L1890.3,857.2 L1889.8,860.2 L1891.5,863.2 L1889.2,866.2 L1889.2,869.2 L1888.7,872.2 L1890.6,875.1 L1888.2,878.1 L1889.8,881.1 L1889.5,884.1 L1889.7,887.1 L1887.6,890.1 L1888.0,893.1 L1889.0,896.1 L1888.0,899.1 L1887.6,902.0 L1886.7,905.0 L1886.9,908.0 L1886.3,911.0 L1885.2,914.0 L1885.9,917.0 L1885.0,920.0 L1884.8,923.0 L1885.1,926.0 L1885.5,929.0 L1885.3,931.9 L1885.2,934.9 L1885.0,937.9 L1885.2,940.9 L1884.1,943.9 L1883.8,946.9 L1883.4,949.9 L1882.5,952.9 L1882.3,955.8 L1881.5,958.8 L1883.0,961.8 L1882.7,964.8 L1882.5,967.8 L1881.5,970.8 L1882.0,973.8 L1880.9,976.8 L1880.2,979.7 L1879.6,982.7 L1879.1,985.7 L1880.7,988.7 L1878.1,991.7 L1879.9,994.7 L1879.8,997.7 L1878.7,1000.6 L1877.8,1003.6 L1878.3,1006.6 L1877.5,1009.6 L1878.1,1012.6 L1875.8,1015.6 L1877.6,1018.6 L1876.7,1021.5 L1876.0,1024.5 L1875.7,1027.5 L1874.3,1030.5 L1876.2,1033.5 L1874.7,1036.5 L1874.1,1039.4 L1875.3,1042.4 L1874.1,1045.4 L1874.2,1048.4 L1872.9,1051.4 L1872.7,1054.3 L1871.9,1057.3 L1872.0,1060.3 L1871.4,1063.3 L1871.9,1066.3 L1870.0,1069.3 L1869.8,1072.2 L1869.3,1075.2 L1869.8,1078.2 L1868.5,1081.2 L1869.8,1084.1 L1867.9,1087.1 L1869.0,1090.1 L1868.1,1093.1 L1868.4,1096.1 L1867.7,1099.0 L1867.3,1102.0 L1866.4,1105.0 L1865.6,1108.0 L1866.7,1110.9 L1864.6,1113.9 L1864.9,1116.9 L1865.3,1119.9 L1863.8,1122.8 L1863.0,1125.8 L1864.2,1128.8 L1862.2,1131.8 L1863.5,1134.7 L1861.9,1137.7 L1861.2,1140.7 L1862.1,1143.6 L1862.3,1146.6 L1860.7,1149.6 L1861.2,1152.6 L1859.7,1155.5 L1858.7,1158.5 L1859.1,1161.5 L1859.3,1164.4 L1857.6,1167.4 L1858.6,1170.4 L1858.0,1173.3 L1856.3,1176.3 L1855.3,1179.3 L1854.7,1182.2 L1856.2,1185.2 L1855.4,1188.2 L1854.3,1191.1 L1853.1,1194.1 L1853.3,1197.0 L1853.7,1200.0 L1852.6,1203.0 L1851.0,1205.9 L1850.7,1208.9 L1850.7,1211.8 L1851.2,1214.8 L1849.9,1217.8 L1850.7,1220.7 L1849.6,1223.7 L1848.6,1226.6 L1846.9,1229.6 L1847.1,1232.5 L1848.1,1235.5 L1847.4,1238.4 L1846.1,1241.4 L1845.9,1244.3 L1845.8,1247.3 L1844.2,1250.2 L1842.7,1253.2 L1844.2,1256.1 L1843.8,1259.1 L1841.9,1262.0 L1840.3,1265.0 L1840.8,1267.9 L1840.9,1270.9 L1839.3,1273.8 L1839.9,1276.7 L1837.3,1279.7 L1838.4,1282.6 L1837.7,1285.6 L1837.1,1288.5 L1835.7,1291.4 L1836.6,1294.4 L1835.2,1297.3 L1834.1,1300.3 L1834.8,1303.2 L1834.2,1306.1 L1832.2,1309.0 L1832.0,1312.0 L1830.2,1314.9 L1830.1,1317.8 L1830.7,1320.8 L1830.1,1323.7 L1827.9,1326.6 L1827.8,1329.5 L1827.2,1332.5 L1825.4,1335.4 L1824.6,1338.3 L1825.6,1341.2 L1825.0,1344.2 L1824.8,1347.1 L1821.9,1350.0 L1821.8,1352.9 L1820.8,1355.8 L1820.2,1358.7 L1819.7,1361.6 L1819.5,1364.5 L1818.3,1367.5 L1817.6,1370.4 L1817.4,1373.3 L1817.1,1376.2 L1815.7,1379.1 L1814.4,1382.0 L1814.8,1384.9 L1814.2,1387.8 L1812.6,1390.7 L1811.9,1393.6 L1811.1,1396.5" stroke="#ff0000"/>
<path d="M306.0,1392.0 L307.3,1389.3 L308.7,1386.6 L310.8,1384.0 L312.0,1381.3 L311.8,1378.6 L314.1,1375.9 L316.2,1373.2 L317.0,1371.2 L321.2,1369.8 L322.4,1368.4 L325.8,1367.0 L327.6,1365.5 L330.7,1364.1 L332.6,1362.7 L337.1,1361.3 L337.9,1359.9 L340.8,1358.7 L343.2,1357.7 L347.6,1356.8 L349.7,1355.9 L352.2,1354.9 L355.1,1354.0 L357.9,1353.0 L361.2,1352.0 L364.5,1351.1 L365.8,1350.1 L371.0,1349.1 L371.4,1348.1 L375.3,1347.1 L378.2,1346.1 L381.7,1345.1 L384.7,1344.1 L386.4,1343.1 L390.3,1342.1 L391.6,1341.0 L394.5,1340.0 L398.0,1339.0 L401.6,1337.9 L403.1,1336.9 L407.4,1335.8 L409.1,1334.8 L411.2,1333.7 L413.8,1332.6 L418.1,1331.6 L419.6,1330.5 L422.1,1329.4 L425.3,1328.3 L429.1,1327.2 L432.2,1326.1 L433.9,1325.0 L437.1,1323.9 L440.0,1322.8 L442.8,1321.7 L445.7,1320.6 L447.3,1319.4 L451.9,1318.3 L453.8,1317.2 L456.3,1316.0 L460.3,1314.9 L462.1,1313.7 L465.0,1312.6 L468.1,1311.4 L471.2,1310.3 L472.5,1309.1 L476.0,1307.9 L478.4,1306.7 L481.1,1305.6 L484.8,1304.4 L486.2,1303.2 L490.8,1302.0 L493.4,1300.8 L495.4,1299.6 L498.0,1298.4 L500.7,1297.1 L504.1,1295.9 L506.0,1294.7 L509.4,1293.5 L512.2,1292.2 L514.6,1291.0 L517.6,1289.8 L520.0,1288.5 L522.1,1287.3 L524.9,1286.0 L529.3,1284.8 L529.8,1283.5 L532.8,1282.2 L537.0,1281.0 L539.9,1279.7 L541.9,1278.4 L545.1,1277.1 L546.7,1275.9 L549.4,1274.6 L552.3,1273.3 L555.8,1272.0 L557.8,1270.7 L561.7,1269.4 L563.4,1268.1 L566.6,1266.8 L568.8,1265.4 L570.3,1264.1 L574.2,1262.8 L576.9,1261.5 L578.7,1260.1 L581.7,1258.8 L584.9,1257.5 L588.6,1256.1 L589.5,1254.8 L592.8,1253.4 L594.6,1252.1 L598.9,1250.7 L601.3,1249.3 L604.5,1248.0 L607.4,1246.6 L609.8,1245.2 L611.6,1243.8 L614.0,1242.5 L617.9,1241.1 L619.3,1239.7 L621.7,1238.3 L624.3,1236.9 L627.9,1235.5 L630.0,1234.1 L633.8,1232.7 L635.9,1231.3 L638.0,1229.9 L641.8,1228.5 L643.7,1227.0 L647.1,1225.6 L647.9,1224.2 L650.5,1222.8 L654.3,1221.3 L656.9,1219.9 L659.1,1218.5 L662.4,1217.0 L664.9,1215.6 L666.5,1214.1 L669.2,1212.7 L672.3,1211.2 L674.2,1209.8 L678.1,1208.3 L681.0,1206.8 L682.9,1205.4 L686.3,1203.9 L688.4,1202.4 L691.5,1200.9 L694.1,1199.5 L697.1,1198.0 L697.5,1196.5 L701.0,1195.0 L704.1,1193.5 L707.1,1192.0 L709.0,1190.5 L712.3,1189.0 L713.7,1187.5 L717.6,1186.0 L718.8,1184.5 L721.1,1183.0 L724.4,1181.4 L727.5,1179.9 L728.8,1178.4 L732.6,1176.9 L735.6,1175.3 L738.6,1173.8 L739.9,1172.3 L742.5,1170.7 L744.8,1169.2 L746.7,1167.7 L749.6,1166.1 L753.4,1164.6 L756.4,1163.0 L757.4,1161.5 L760.4,1159.9 L762.6,1158.3 L766.2,1156.8 L767.7,1155.2 L769.7,1153.6 L772.6,1152.1 L774.8,1150.5 L778.6,1148.9 L780.5,1147.3 L783.2,1145.8 L786.7,1144.2 L788.1,1142.6 L790.4,1141.0 L792.8,1139.4 L797.2,1137.8 L798.6,1136.2 L802.6,1134.6 L802.9,1133.0 L807.4,1131.4 L810.0,1129.8 L811.1,1128.2 L813.5,1126.6 L817.6,1125.0 L818.8,1123.4 L820.9,1121.7 L823.4,1120.1 L827.8,1118.5 L828.2,1116.9 L830.7,1115.2 L834.4,1113.6 L835.8,1112.0 L838.4,1110.3 L841.3,1108.7 L844.1,1107.1 L847.2,1105.4 L848.8,1103.8 L850.7,1102.1 L853.9,1100.5 L856.5,1098.8 L860.4,1097.2 L861.5,1095.5 L864.7,1093.9 L865.8,1092.2 L868.8,1090.5 L870.6,1088.9 L874.8,1087.2 L875.8,1085.5 L879.2,1083.8 L880.8,1082.2 L884.7,1080.5 L885.7,1078.8 L888.4,1077.1 L890.7,1075.5 L893.2,1073.8 L896.1,1072.1 L898.6,1070.4 L902.3,1068.7 L905.3,1067.0 L907.7,1065.3 L907.9,1063.6 L910.9,1061.9 L913.0,1060.2 L916.8,1058.5 L918.1,1056.8 L921.2,1055.1 L924.8,1053.4 L927.0,1051.7 L929.2,1049.9 L931.8,1048.2 L932.8,1046.5 L935.9,1044.8 L939.1,1043.1 L940.4,1041.3 L942.7,1039.6 L945.6,1037.9 L948.7,1036.2 L950.8,1034.4 L953.9,1032.7 L956.2,1031.0 L957.6,1029.2 L959.5,1027.5 L963.6,1025.7 L965.2,1024.0 L967.0,1022.3 L969.3,1020.5 L972.4,1018.8 L976.0,1017.0 L978.2,1015.3 L981.0,1013.5 L982.1,1011.7 L985.8,1010.0 L988.6,1008.2 L990.4,1006.5 L992.7,1004.7 L993.7,1002.9 L997.0,1001.2 L1000.0,999.4 L1002.1,997.6 L1004.6,995.9 L1007.5,994.1 L1008.1,992.3 L1012.6,990.5 L1015.0,988.7 L1015.8,987.0 L1018.0,985.2 L1021.5,983.4 L1023.1,981.6 L1025.1,979.8 L1029.2,978.0 L1030.9,976.2 L1033.0,974.4 L1034.7,972.7 L1038.7,970.9 L1040.6,969.1 L1043.2,967.3 L1045.5,965.5 L1046.8,963.7 L1050.3,961.9 L1053.7,960.0 L1055.1,958.2 L1058.3,956.4 L1060.6,954.6 L1061.0,952.8 L1064.2,951.0 L1066.6,949.2 L1068.4,947.4 L1071.6,945.5 L1073.3,943.7 L1076.9,941.9 L1078.2,940.1 L1080.7,938.2 L1084.1,936.4 L1087.0,934.6 L1089.0,932.7 L1090.0,930.9 L1093.6,929.1 L1095.5,927.2 L1098.0,925.4 L1100.1,923.6 L1102.6,921.7 L1105.3,919.9 L1106.9,918.0 L1110.8,916.2 L1112.0,914.3 L1115.0,912.5 L1115.7,910.6 L1118.9,908.8 L1122.1,906.9 L1124.2,905.1 L1127.2,903.2 L1129.4,901.4 L1131.1,899.5 L1132.8,897.7 L1136.0,895.8 L1139.0,893.9 L1140.9,892.1 L1142.8,890.2 L1143.8,888.3 L1147.7,886.4 L1150.7,884.6 L1152.1,882.7 L1154.6,880.8 L1157.8,878.9 L1158.3,877.1 L1162.4,875.2 L1164.5,873.3 L1165.3,871.4 L1168.9,869.5 L1171.0,867.7 L1173.4,865.8 L1175.3,863.9 L1177.9,862.0 L1179.9,860.1 L1182.6,858.2 L1183.6,856.3 L1187.4,854.4 L1189.5,852.5 L1192.0,850.6 L1194.5,848.7 L1195.1,846.8 L1198.2,844.9 L1200.0,843.0 L1204.2,841.1 L1206.6,839.2 L1207.3,837.3 L1210.8,835.4 L1211.6,833.4 L1214.3,831.5 L1216.8,829.6 L1220.1,827.7 L1220.9,825.8 L1223.9,823.9 L1226.3,821.9 L1228.4,820.0 L1230.6,818.1 L1233.1,816.2 L1235.9,814.2 L1238.6,812.3 L1240.0,810.4 L1242.7,808.4 L1245.0,806.5 L1245.9,804.6 L1250.2,802.6 L1250.6,800.7 L1253.0,798.8 L1256.1,796.8 L1258.7,794.9 L1260.8,792.9 L1262.5,791.0 L1265.2,789.0 L1267.9,787.1 L1269.7,785.1 L1271.5,783.2 L1273.3,781.2 L1277.0,779.3 L1277.8,777.3 L1281.6,775.4 L1284.2,773.4 L1287.0,771.4 L1288.5,769.5 L1289.9,767.5 L1291.5,765.6 L1295.7,763.6 L1297.3,761.6 L1299.3,759.7 L1302.6,757.7 L1305.0,755.7 L1306.0,753.8 L1309.4,751.8 L1311.6,749.8 L1312.9,747.8 L1314.7,745.9 L1316.3,743.9 L1318.9,741.9 L1323.1,739.9 L1325.4,737.9 L1325.9,735.9 L1329.6,734.0 L1330.3,732.0 L1332.5,730.0 L1334.6,728.0 L1337.0,726.0 L1339.6,724.0 L1343.2,722.0 L1345.4,720.0 L1346.2,718.0 L1348.9,716.0 L1351.1,714.0 L1354.2,712.0 L1355.7,710.0 L1356.9,708.0 L1359.7,706.0 L1363.3,704.0 L1364.8,702.0 L1366.3,700.0 L1368.9,698.0 L1371.1,696.0 L1373.4,694.0 L1374.8,692.0 L1377.3,690.0 L1380.2,687.9 L1383.1,685.9 L1384.5,683.9 L1385.7,681.9 L1389.5,679.9 L1391.2,677.8 L1392.6,675.8 L1394.8,673.8 L1398.7,671.8 L1399.3,669.7 L1403.1,667.7 L1403.6,665.7 L1406.0,663.7 L1409.8,661.6 L1410.0,659.6 L1412.5,657.6 L1415.4,655.5 L1417.8,653.5 L1420.3,651.5 L1422.4,649.4 L1423.3,647.4 L1426.9,645.3 L1429.9,643.3 L1430.7,641.2 L1434.2,639.2 L1434.4,637.2 L1438.1,635.1 L1440.0,633.1 L1441.0,631.0 L1444.8,629.0 L1445.5,626.9 L1447.7,624.8 L1451.3,622.8 L1453.0,620.7 L1455.3,618.7 L1458.3,616.6 L1459.9,614.6 L1461.6,612.5 L1464.9,610.4 L1466.4,608.4 L1467.4,606.3 L1470.1,604.2 L1471.9,602.2 L1474.3,600.1 L1475.8,598.0 L1478.7,596.0 L1482.1,593.9 L1482.9,591.8 L1485.2,589.7 L1488.2,587.7 L1490.3,585.6 L1492.4,583.5 L1493.6,581.4 L1495.4,579.4 L1498.3,577.3 L1499.5,575.2 L1502.5,573.1 L1504.6,571.0 L1506.2,568.9 L1508.1,566.9 L1511.6,564.8 L1514.5,562.7 L1516.0,560.6 L1517.9,558.5 L1520.3,556.4 L1521.6,554.3 L1523.3,552.2 L1526.8,550.1 L1527.5,548.0 L1530.4,545.9 L1532.2,543.8 L1535.1,541.7 L1537.8,539.6 L1539.2,537.5 L1540.3,535.4 L1544.0,533.3 L1546.0,531.2 L1546.8,529.1 L1551.1,527.0 L1551.7,524.9 L1554.7,522.8 L1556.4,520.7 L1558.8,518.6 L1560.3,516.4 L1562.2,514.3 L1564.9,512.2 L1566.6,510.1 L1568.5,508.0 L1570.3,505.9 L1574.2,503.7 L1576.6,501.6 L1577.4,499.5 L1578.7,497.4 L1580.8,495.3 L1584.6,493.1 L1585.0,491.0 L1587.7,488.9 L1591.2,486.8 L1591.8,484.6 L1594.7,482.5 L1596.7,480.4 L1600.0,478.2 L1600.9,476.1 L1603.0,474.0 L1604.5,471.8 L1607.0,469.7 L1610.4,467.6 L1610.8,465.4 L1613.1,463.3 L1615.5,461.2 L1618.7,459.0 L1621.0,456.9 L1621.1,454.7 L1623.4,452.6 L1625.5,450.4 L1629.0,448.3 L1630.3,446.2 L1632.7,444.0 L1633.5,441.9 L1637.6,439.7 L1639.0,437.6 L1641.1,435.4 L1643.7,433.3 L1644.7,431.1 L1646.3,429.0 L1648.6,426.8 L1652.0,424.7 L1653.7,422.5 L1656.6,420.4 L1657.3,418.2 L1658.6,416.0 L1661.3,413.9 L1663.2,411.7 L1667.0,409.6 L1668.3,407.4 L1668.9,405.2 L1672.8,403.1 L1674.2,400.9 L1677.3,398.8 L1677.4,396.6 L1679.7,394.4 L1682.4,392.3 L1684.8,390.1 L1685.7,387.9 L1687.8,385.8 L1691.7,383.6 L1691.9,381.4 L1694.8,379.2 L1696.9,377.1 L1698.3,374.9 L1701.2,372.7 L1702.3,370.6 L1704.2,368.4 L1706.3,366.2 L1709.7,364.0 L1711.2,361.8 L1713.4,359.7 L1714.7,357.5 L1717.6,355.3 L1719.9,353.1 L1721.6,350.9 L1723.4,348.8 L1727.0,346.6 L1728.1,344.4 L1730.6,342.2 L1731.6,340.0 L1734.0,337.8 L1735.3,335.7 L1738.2,333.5 L1739.5,331.3 L1741.7,329.1 L1743.3,326.9 L1745.6,324.7 L1748.9,322.5 L1751.3,320.3 L1752.9,318.1 L1754.5,315.9 L1755.9,313.8 L1759.3,311.6 L1760.4,309.4 L1762.9,307.2 L1765.7,305.0 L1766.0,302.8 L1768.2,300.6 L1769.9,298.4 L1772.9,296.2 L1775.8,294.0 L1778.2,291.8 L1778.3,289.6 L1782.2,287.4 L1783.0,285.2 L1786.3,283.0 L1787.2,280.8 L1788.1,278.6 L1791.9,276.4 L1793.6,274.1 L1794.3,271.9 L1797.8,269.7 L1800.0,267.5 L1800.4,265.3 L1802.4,263.1 L1804.9,260.9 L1808.0,258.7 L1810.2,256.5 L1810.8,254.3 L1813.7,252.0 L1816.7,249.8 L1818.2,247.6 L1818.7,245.4 L1822.8,243.2 L1824.6,241.0 L1825.2,238.7 L1829.0,236.5 L1829.4,234.3 L1832.0,232.1 L1833.3,229.9 L1835.3,227.6 L1838.1,225.4 L1839.2,223.2 L1841.4,221.0 L1844.8,218.8 L1845.1,216.5 L1848.7,214.3 L1849.5,212.1 L1852.9,209.9 L1853.3,207.6 L1855.9,205.4 L1857.2,203.2 L1859.4,200.9 L1861.9,198.7 L1863.1,196.5 L1865.6,194.3 L1867.4,192.0 L1870.7,189.8 L1871.4,187.6 L1873.0,185.3 L1877.1,183.1 L1877.4,180.9 L1881.1,178.6 L1881.7,176.4 L1882.9,174.2 L1886.2,171.9 L1888.6,169.7 L1890.5,167.4 L1892.1,165.2 L1894.5,163.0 L1896.0,160.8 L1898.3,158.7 L1900.2,156.6 L1903.0,154.5 L1905.6,152.3 L1906.2,150.2 L1908.4,152.7 L1907.5,155.6 L1908.5,158.5 L1909.0,161.5 L1910.0,164.4 L1910.4,167.4 L1910.8,170.3 L1910.1,173.3 L1912.2,176.3 L1911.1,179.3 L1911.4,182.3 L1912.1,185.3 L1911.4,188.3 L1911.4,191.3 L1912.3,194.3 L1911.2,197.3 L1910.6,200.3 L1911.2,203.3 L1912.0,206.3 L1911.8,209.3 L1910.5,212.3 L1910.7,215.3 L1910.8,218.3 L1910.7,221.3 L1910.4,224.3 L1909.7,227.3 L1909.0,230.3 L1910.7,233.2 L1909.4,236.2 L1910.0,239.2 L1908.2,242.2 L1908.5,245.2 L1907.8,248.2 L1908.2,251.2 L1908.8,254.2 L1907.3,257.2 L1907.6,260.2 L1907.3,263.2 L1907.8,266.2 L1907.8,269.2 L1906.2,272.2 L1906.0,275.1 L1906.1,278.1 L1906.7,281.1 L1907.5,284.1 L1905.5,287.1 L1904.8,290.1 L1904.8,293.1 L1905.1,296.1 L1905.1,299.1 L1905.5,302.1 L1905.8,305.1 L1904.4,308.1 L1905.4,311.1 L1904.0,314.1 L1904.4,317.0 L1902.8,320.0 L1903.6,323.0 L1903.8,326.0 L1904.5,329.0 L1903.2,332.0 L1901.8,335.0 L1902.3,338.0 L1901.9,341.0 L1903.3,344.0 L1901.5,347.0 L1902.3,350.0 L1900.5,353.0 L1900.4,356.0 L1901.0,358.9 L1900.2,361.9 L1901.1,364.9 L1901.6,367.9 L1899.7,370.9 L1899.2,373.9 L1899.2,376.9 L1899.2,379.9 L1899.5,382.9 L1898.6,385.9 L1900.2,388.9 L1899.7,391.9 L1898.6,394.9 L1898.1,397.9 L1897.4,400.9 L1897.8,403.8 L1897.3,406.8 L1898.7,409.8 L1896.6,412.8 L1898.1,415.8 L1896.2,418.8 L1897.2,421.8 L1896.0,424.8 L1895.9,427.8 L1896.5,430.8 L1895.6,433.8 L1895.4,436.8 L1895.4,439.8 L1895.6,442.8 L1895.4,445.8 L1895.7,448.7 L1895.2,451.7 L1894.6,454.7 L1893.9,457.7 L1893.3,460.7 L1895.4,463.7 L1893.6,466.7 L1894.2,469.7 L1893.7,472.7 L1892.6,475.7 L1893.6,478.7 L1894.2,481.7 L1892.8,484.7 L1892.4,487.7 L1892.5,490.7 L1892.2,493.6 L1893.0,496.6 L1892.4,499.6 L1891.0,502.6 L1890.7,505.6 L1891.6,508.6 L1891.6,511.6 L1889.8,514.6 L1890.2,517.6 L1890.4,520.6 L1890.5,523.6 L1890.1,526.6 L1889.9,529.6 L1890.8,532.6 L1889.7,535.6 L1889.1,538.5 L1888.3,541.5 L1889.0,544.5 L1889.6,547.5 L1887.9,550.5 L1888.4,553.5 L1887.5,556.5 L1887.7,559.5 L1886.7,562.5 L1887.2,565.5 L1887.9,568.5 L1888.1,571.5 L1887.7,574.5 L1887.5,577.5 L1886.7,580.5 L1885.8,583.4 L1885.4,586.4 L1886.6,589.4 L1885.1,592.4 L1886.3,595.4 L1886.0,598.4 L1885.8,601.4 L1885.4,604.4 L1885.8,607.4 L1885.3,610.4 L1883.3,613.4 L1884.8,616.4 L1884.6,619.4 L1884.3,622.4 L1882.5,625.4 L1884.3,628.3 L1883.8,631.3 L1882.6,634.3 L1882.4,637.3 L1881.6,640.3 L1883.0,643.3 L1882.9,646.3 L1882.7,649.3 L1882.1,652.3 L1880.4,655.3 L1882.4,658.3 L1881.6,661.3 L1880.7,664.3 L1881.4,667.3 L1880.0,670.3 L1879.6,673.2 L1879.9,676.2 L1879.6,679.2 L1879.3,682.2 L1878.5,685.2 L1879.5,688.2 L1880.0,691.2 L1878.6,694.2 L1878.4,697.2 L1878.2,700.2 L1878.5,703.2 L1878.8,706.2 L1877.8,709.2 L1878.1,712.2 L1877.3,715.2 L1878.4,718.1 L1876.9,721.1 L1876.5,724.1 L1877.0,727.1 L1877.3,730.1 L1876.9,733.1 L1875.7,736.1 L1874.9,739.1 L1876.0,742.1 L1874.8,745.1 L1875.3,748.1 L1875.7,751.1 L1874.3,754.1 L1874.4,757.1 L1875.1,760.1 L1874.6,763.0 L1873.8,766.0 L1873.9,769.0 L1874.5,772.0 L1874.3,775.0 L1872.7,778.0 L1871.9,781.0 L1873.4,784.0 L1873.1,787.0 L1871.9,790.0 L1872.6,793.0 L1872.9,796.0 L1871.0,799.0 L1870.6,802.0 L1870.5,804.9 L1871.1,807.9 L1870.6,810.9 L1871.3,813.9 L1869.9,816.9 L1870.4,819.9 L1870.3,822.9 L1871.0,825.9 L1869.6,828.9 L1870.3,831.9 L1868.6,834.9 L1869.0,837.9 L1869.6,840.9 L1867.7,843.8 L1867.2,846.8 L1867.6,849.8 L1867.3,852.8 L1867.4,855.8 L1868.4,858.8 L1867.0,861.8 L1868.0,864.8 L1866.4,867.8 L1866.3,870.8 L1866.7,873.8 L1866.1,876.7 L1866.8,879.7 L1864.7,882.7 L1865.5,885.7 L1865.4,888.7 L1864.2,891.7 L1863.5,894.7 L1863.2,897.7 L1865.0,900.7 L1863.5,903.7 L1863.0,906.6 L1863.5,909.6 L1862.2,912.6 L1862.4,915.6 L1862.2,918.6 L1861.8,921.6 L1862.2,924.6 L1860.7,927.6 L1862.0,930.6 L1860.6,933.5 L1859.8,936.5 L1861.0,939.5 L1860.8,942.5 L1859.1,945.5 L1860.5,948.5 L1859.8,951.5 L1860.4,954.4 L1858.7,957.4 L1857.6,960.4 L1859.2,963.4 L1858.7,966.4 L1858.6,969.4 L1858.5,972.4 L1857.6,975.3 L1856.8,978.3 L1856.1,981.3 L1857.1,984.3 L1856.8,987.3 L1855.4,990.3 L1855.5,993.3 L1855.8,996.2 L1854.6,999.2 L1855.4,1002.2 L1854.2,1005.2 L1853.8,1008.2 L1853.0,1011.1 L1852.7,1014.1 L1852.1,1017.1 L1851.4,1020.1 L1851.6,1023.1 L1850.5,1026.0 L1851.1,1029.0 L1851.4,1032.0 L1850.2,1035.0 L1849.9,1038.0 L1849.5,1040.9 L1849.3,1043.9 L1848.8,1046.9 L1848.4,1049.9 L1849.6,1052.8 L1849.1,1055.8 L1847.9,1058.8 L1847.8,1061.8 L1847.8,1064.8 L1846.3,1067.7 L1847.1,1070.7 L1845.2,1073.7 L1844.7,1076.6 L1845.3,1079.6 L1845.3,1082.6 L1843.5,1085.6 L1843.9,1088.5 L1843.9,1091.5 L1842.9,1094.5 L1842.9,1097.4 L1842.4,1100.4 L1841.4,1103.4 L1839.9,1106.4 L1840.7,1109.3 L1840.7,1112.3 L1839.2,1115.3 L1839.2,1118.2 L1839.5,1121.2 L1837.5,1124.2 L1837.5,1127.1 L1838.4,1130.1 L1837.0,1133.0 L1837.6,1136.0 L1837.1,1139.0 L1834.6,1141.9 L1835.9,1144.9 L1835.4,1147.8 L1834.3,1150.8 L1832.8,1153.8 L1833.9,1156.7 L1831.9,1159.7 L1833.1,1162.6 L1831.0,1165.6 L1830.2,1168.6 L1829.7,1171.5 L1830.1,1174.5 L1828.5,1177.4 L1828.9,1180.4 L1827.7,1183.3 L1827.0,1186.3 L1828.1,1189.2 L1825.8,1192.2 L1826.2,1195.1 L1826.1,1198.1 L1825.4,1201.0 L1823.7,1204.0 L1823.5,1206.9 L1822.5,1209.8 L1822.3,1212.8 L1822.4,1215.7 L1820.9,1218.7 L1820.4,1221.6 L1820.6,1224.6 L1818.8,1227.5 L1820.2,1230.4 L1817.6,1233.4 L1817.6,1236.3 L1817.2,1239.2 L1817.7,1242.2 L1816.2,1245.1 L1816.7,1248.0 L1814.2,1251.0 L1813.7,1253.9 L1813.9,1256.8 L1812.1,1259.8 L1812.4,1262.7 L1810.5,1265.6 L1811.7,1268.5 L1810.6,1271.5 L1809.0,1274.4 L1809.9,1277.3 L1808.3,1280.2 L1806.9,1283.1 L1807.5,1286.0 L1807.3,1289.0 L1805.1,1291.9 L1803.6,1294.8 L1803.3,1297.7 L1803.1,1300.6 L1802.1,1303.5 L1802.4,1306.4 L1799.9,1309.3 L1801.3,1312.3 L1798.9,1315.2 L1798.5,1318.1 L1797.6,1321.0 L1796.6,1323.9 L1796.6,1326.8 L1795.7,1329.7 L1795.8,1332.6 L1793.5,1335.5 L1792.9,1338.3 L1792.1,1341.2 L1792.6,1344.1 L1792.0,1347.0 L1791.2,1349.9 L1788.8,1352.8 L1789.1,1355.7 L1786.6,1358.6 L1786.4,1361.4 L1785.1,1364.3 L1785.3,1367.2 L1785.3,1370.1 L1783.1,1373.0 L1783.3,1375.8 L1782.0,1378.7 L1780.7,1381.6 L1781.1,1384.4 L1780.1,1387.3 L1778.2,1390.2 L1777.3,1393.0 L1776.4,1395.9" stroke="#0000ff"/>
<path d="M300.0,1392.0 L301.7,1389.5 L303.3,1387.0 L306.2,1384.5 L307.1,1382.0 L307.4,1379.5 L311.1,1377.0 L310.5,1374.5 L314.1,1372.8 L317.7,1371.3 L319.4,1369.7 L322.5,1368.2 L323.8,1366.7 L327.7,1365.1 L329.4,1363.6 L331.3,1362.1 L334.0,1360.6 L337.5,1359.0 L339.1,1357.5 L343.1,1356.4 L346.5,1355.4 L349.0,1354.3 L350.4,1353.2 L353.9,1352.2 L357.0,1351.1 L360.5,1350.0 L363.3,1348.9 L364.1,1347.8 L368.1,1346.8 L370.1,1345.7 L374.3,1344.6 L375.7,1343.5 L378.8,1342.4 L381.9,1341.3 L384.6,1340.2 L388.4,1339.1 L389.6,1337.9 L392.8,1336.8 L395.8,1335.7 L397.9,1334.6 L401.8,1333.4 L402.9,1332.3 L406.4,1331.2 L410.3,1330.0 L412.2,1328.9 L416.2,1327.7 L417.4,1326.6 L420.2,1325.4 L422.4,1324.3 L425.5,1323.1 L428.5,1321.9 L432.4,1320.8 L434.7,1319.6 L436.3,1318.4 L439.4,1317.3 L441.7,1316.1 L446.1,1314.9 L449.2,1313.7 L451.5,1312.5 L453.8,1311.3 L455.9,1310.1 L460.4,1308.9 L461.4,1307.7 L463.9,1306.5 L467.3,1305.3 L470.5,1304.1 L474.1,1302.8 L475.8,1301.6 L477.4,1300.4 L480.1,1299.2 L483.4,1297.9 L486.1,1296.7 L488.6,1295.5 L493.1,1294.2 L496.0,1293.0 L498.3,1291.7 L501.3,1290.5 L502.9,1289.2 L506.6,1288.0 L509.6,1286.7 L510.6,1285.4 L513.4,1284.2 L516.3,1282.9 L519.3,1281.6 L521.6,1280.3 L525.6,1279.1 L528.7,1277.8 L529.6,1276.5 L532.8,1275.2 L536.0,1273.9 L539.4,1272.6 L541.2,1271.3 L544.0,1270.0 L545.9,1268.7 L548.9,1267.4 L551.7,1266.1 L553.6,1264.8 L557.8,1263.4 L560.7,1262.1 L561.6,1260.8 L565.6,1259.5 L567.4,1258.1 L569.8,1256.8 L574.2,1255.5 L575.9,1254.1 L578.1,1252.8 L581.6,1251.4 L583.6,1250.1 L587.5,1248.7 L588.3,1247.4 L592.3,1246.0 L594.4,1244.7 L597.9,1243.3 L600.8,1241.9 L601.8,1240.6 L605.7,1239.2 L607.1,1237.8 L610.1,1236.4 L614.6,1235.0 L615.6,1233.7 L618.4,1232.3 L622.3,1230.9 L625.2,1229.5 L627.5,1228.1 L630.5,1226.7 L632.4,1225.3 L635.7,1223.9 L636.6,1222.5 L639.6,1221.1 L642.1,1219.6 L646.4,1218.2 L648.5,1216.8 L649.6,1215.4 L652.7,1214.0 L656.0,1212.5 L658.8,1211.1 L661.8,1209.7 L664.5,1208.2 L667.4,1206.8 L669.6,1205.3 L671.4,1203.9 L675.4,1202.5 L677.2,1201.0 L680.0,1199.5 L683.2,1198.1 L685.0,1196.6 L686.3,1195.2 L691.2,1193.7 L692.7,1192.2 L695.3,1190.8 L698.2,1189.3 L700.1,1187.8 L703.1,1186.3 L705.3,1184.9 L708.6,1183.4 L711.7,1181.9 L712.7,1180.4 L716.6,1178.9 L717.9,1177.4 L721.9,1175.9 L724.3,1174.4 L727.3,1172.9 L730.1,1171.4 L730.6,1169.9 L733.4,1168.4 L737.0,1166.9 L738.3,1165.3 L741.7,1163.8 L744.0,1162.3 L746.2,1160.8 L751.0,1159.2 L753.2,1157.7 L754.9,1156.2 L758.5,1154.6 L761.2,1153.1 L762.0,1151.6 L766.3,1150.0 L767.4,1148.5 L771.6,1146.9 L772.6,1145.4 L776.2,1143.8 L777.8,1142.3 L780.8,1140.7 L784.1,1139.2 L786.0,1137.6 L787.4,1136.0 L791.4,1134.5 L794.6,1132.9 L795.2,1131.3 L797.7,1129.7 L800.1,1128.2 L802.8,1126.6 L807.4,1125.0 L809.3,1123.4 L811.3,1121.8 L814.3,1120.2 L815.3,1118.6 L819.0,1117.0 L821.1,1115.4 L823.9,1113.8 L825.5,1112.2 L828.8,1110.6 L830.5,1109.0 L833.1,1107.4 L837.6,1105.8 L839.9,1104.2 L841.4,1102.6 L845.5,1100.9 L845.9,1099.3 L849.5,1097.7 L852.3,1096.1 L853.8,1094.4 L856.6,1092.8 L858.5,1091.2 L862.5,1089.5 L863.5,1087.9 L867.3,1086.3 L868.4,1084.6 L872.4,1083.0 L873.6,1081.3 L877.3,1079.7 L879.9,1078.0 L882.3,1076.4 L885.5,1074.7 L886.4,1073.0 L890.6,1071.4 L890.8,1069.7 L895.5,1068.0 L896.7,1066.4 L899.3,1064.7 L902.1,1063.0 L903.8,1061.4 L906.6,1059.7 L908.9,1058.0 L912.4,1056.3 L913.3,1054.6 L917.3,1052.9 L919.5,1051.2 L921.8,1049.6 L925.4,1047.9 L926.1,1046.2 L930.2,1044.5 L931.4,1042.8 L933.2,1041.1 L936.7,1039.4 L940.0,1037.6 L942.7,1035.9 L944.7,1034.2 L946.7,1032.5 L948.8,1030.8 L952.2,1029.1 L953.7,1027.4 L956.0,1025.6 L958.3,1023.9 L961.6,1022.2 L964.6,1020.5 L967.1,1018.7 L969.1,1017.0 L970.4,1015.3 L972.5,1013.5 L975.0,1011.8 L979.2,1010.0 L981.4,1008.3 L984.2,1006.5 L986.5,1004.8 L989.1,1003.1 L989.5,1001.3 L992.3,999.5 L995.9,997.8 L996.9,996.0 L999.2,994.3 L1001.6,992.5 L1004.6,990.7 L1008.2,989.0 L1009.9,987.2 L1012.2,985.4 L1014.0,983.7 L1016.2,981.9 L1020.7,980.1 L1022.6,978.3 L1024.9,976.6 L1026.8,974.8 L1030.2,973.0 L1031.0,971.2 L1034.9,969.4 L1035.6,967.6 L1038.8,965.8 L1041.8,964.0 L1044.7,962.2 L1045.8,960.4 L1048.7,958.6 L1051.5,956.8 L1053.9,955.0 L1055.4,953.2 L1058.6,951.4 L1060.7,949.6 L1062.8,947.8 L1065.2,946.0 L1067.9,944.2 L1069.1,942.3 L1072.6,940.5 L1074.0,938.7 L1077.1,936.9 L1080.2,935.1 L1081.2,933.2 L1085.3,931.4 L1086.2,929.6 L1090.3,927.7 L1092.3,925.9 L1094.9,924.1 L1096.8,922.2 L1098.3,920.4 L1102.0,918.5 L1104.3,916.7 L1105.9,914.9 L1108.6,913.0 L1111.4,911.2 L1113.3,909.3 L1115.5,907.4 L1118.6,905.6 L1120.6,903.7 L1122.6,901.9 L1125.5,900.0 L1127.8,898.2 L1129.1,896.3 L1132.4,894.4 L1133.2,892.6 L1135.7,890.7 L1138.1,888.8 L1140.1,886.9 L1143.4,885.1 L1146.7,883.2 L1147.7,881.3 L1150.5,879.4 L1151.5,877.5 L1154.1,875.7 L1158.2,873.8 L1159.8,871.9 L1161.4,870.0 L1164.4,868.1 L1165.5,866.2 L1168.4,864.3 L1170.6,862.4 L1173.5,860.5 L1176.8,858.6 L1178.9,856.7 L1181.0,854.8 L1182.6,852.9 L1185.0,851.0 L1186.7,849.1 L1188.8,847.2 L1193.3,845.3 L1194.5,843.4 L1197.6,841.5 L1198.5,839.5 L1202.3,837.6 L1203.1,835.7 L1205.2,833.8 L1207.6,831.9 L1211.3,829.9 L1213.2,828.0 L1215.0,826.1 L1216.6,824.1 L1220.4,822.2 L1221.2,820.3 L1224.5,818.3 L1226.0,816.4 L1228.1,814.5 L1230.1,812.5 L1232.5,810.6 L1234.7,808.6 L1238.2,806.7 L1240.5,804.8 L1243.6,802.8 L1246.0,800.9 L1246.3,798.9 L1249.1,797.0 L1251.4,795.0 L1255.1,793.0 L1256.6,791.1 L1257.8,789.1 L1259.8,787.2 L1262.3,785.2 L1266.3,783.2 L1268.5,781.3 L1270.7,779.3 L1273.0,777.3 L1273.5,775.4 L1275.6,773.4 L1279.8,771.4 L1280.4,769.5 L1284.4,767.5 L1284.6,765.5 L1288.7,763.5 L1290.5,761.5 L1291.6,759.6 L1295.5,757.6 L1297.6,755.6 L1299.8,753.6 L1301.2,751.6 L1304.5,749.6 L1306.4,747.6 L1308.3,745.6 L1310.8,743.7 L1313.8,741.7 L1315.8,739.7 L1316.9,737.7 L1320.0,735.7 L1322.3,733.7 L1324.8,731.7 L1326.2,729.7 L1327.6,727.6 L1330.8,725.6 L1332.5,723.6 L1334.6,721.6 L1337.7,719.6 L1338.7,717.6 L1340.6,715.6 L1344.8,713.6 L1345.8,711.5 L1348.3,709.5 L1351.1,707.5 L1351.9,705.5 L1354.6,703.5 L1357.7,701.4 L1359.0,699.4 L1362.3,697.4 L1363.6,695.4 L1365.7,693.3 L1368.6,691.3 L1370.9,689.3 L1372.5,687.2 L1375.2,685.2 L1377.2,683.2 L1379.6,681.1 L1382.7,679.1 L1382.6,677.0 L1385.4,675.0 L1388.2,672.9 L1390.7,670.9 L1391.5,668.9 L1395.8,666.8 L1397.5,664.8 L1399.4,662.7 L1402.5,660.6 L1404.3,658.6 L1406.2,656.5 L1407.7,654.5 L1410.9,652.4 L1412.6,650.4 L1413.7,648.3 L1415.9,646.2 L1419.5,644.2 L1420.8,642.1 L1423.4,640.0 L1424.4,638.0 L1428.4,635.9 L1428.6,633.8 L1431.6,631.8 L1433.7,629.7 L1435.5,627.6 L1438.2,625.6 L1439.9,623.5 L1443.5,621.4 L1445.4,619.3 L1445.9,617.2 L1448.2,615.2 L1451.3,613.1 L1453.9,611.0 L1455.0,608.9 L1458.3,606.8 L1459.8,604.7 L1461.1,602.6 L1463.9,600.6 L1466.3,598.5 L1468.6,596.4 L1471.2,594.3 L1472.3,592.2 L1474.3,590.1 L1478.0,588.0 L1478.7,585.9 L1480.4,583.8 L1483.4,581.7 L1484.8,579.6 L1487.8,577.5 L1489.5,575.4 L1491.9,573.3 L1494.8,571.2 L1496.8,569.0 L1498.1,566.9 L1500.6,564.8 L1503.6,562.7 L1506.0,560.6 L1507.0,558.5 L1509.8,556.4 L1510.4,554.2 L1513.2,552.1 L1514.8,550.0 L1517.9,547.9 L1520.6,545.8 L1521.1,543.6 L1524.3,541.5 L1526.4,539.4 L1529.2,537.3 L1529.2,535.1 L1531.7,533.0 L1533.4,530.9 L1537.8,528.7 L1537.8,526.6 L1541.7,524.5 L1544.0,522.3 L1545.4,520.2 L1546.1,518.1 L1548.7,515.9 L1550.5,513.8 L1552.7,511.6 L1554.4,509.5 L1558.0,507.4 L1559.4,505.2 L1561.0,503.1 L1564.8,500.9 L1565.0,498.8 L1569.2,496.6 L1570.6,494.5 L1571.3,492.3 L1573.3,490.2 L1577.5,488.0 L1578.3,485.9 L1581.2,483.7 L1581.6,481.5 L1585.8,479.4 L1587.4,477.2 L1588.4,475.1 L1590.5,472.9 L1592.3,470.7 L1596.3,468.6 L1597.7,466.4 L1600.5,464.2 L1602.2,462.1 L1603.8,459.9 L1606.6,457.7 L1607.3,455.6 L1610.0,453.4 L1610.9,451.2 L1614.4,449.1 L1615.3,446.9 L1618.6,444.7 L1621.1,442.5 L1622.1,440.3 L1623.8,438.2 L1626.5,436.0 L1627.8,433.8 L1629.3,431.6 L1632.2,429.4 L1635.0,427.3 L1636.8,425.1 L1638.5,422.9 L1641.2,420.7 L1641.6,418.5 L1645.0,416.3 L1646.5,414.1 L1650.0,411.9 L1650.6,409.7 L1653.7,407.5 L1656.2,405.4 L1656.1,403.2 L1660.1,401.0 L1661.7,398.8 L1663.0,396.6 L1665.9,394.4 L1667.8,392.2 L1668.1,390.0 L1671.0,387.8 L1673.6,385.6 L1675.7,383.3 L1678.3,381.1 L1678.8,378.9 L1682.6,376.7 L1683.7,374.5 L1686.6,372.3 L1687.1,370.1 L1688.8,367.9 L1692.8,365.7 L1692.6,363.5 L1696.3,361.2 L1698.1,359.0 L1700.3,356.8 L1701.0,354.6 L1704.2,352.4 L1706.9,350.1 L1708.3,347.9 L1709.2,345.7 L1710.6,343.5 L1714.4,341.3 L1715.5,339.0 L1718.4,336.8 L1720.1,334.6 L1723.0,332.4 L1725.0,330.1 L1725.5,327.9 L1727.5,325.7 L1729.3,323.4 L1733.0,321.2 L1732.9,319.0 L1735.7,316.7 L1736.9,314.5 L1740.3,312.3 L1741.5,310.0 L1744.4,307.8 L1744.8,305.5 L1747.3,303.3 L1750.6,301.1 L1750.8,298.8 L1753.0,296.6 L1754.8,294.3 L1758.8,292.1 L1761.0,289.8 L1762.6,287.6 L1763.2,285.3 L1765.1,283.1 L1767.9,280.9 L1769.2,278.6 L1772.2,276.3 L1773.8,274.1 L1775.5,271.8 L1777.3,269.6 L1779.3,267.3 L1781.6,265.1 L1783.8,262.8 L1785.9,260.6 L1787.8,258.3 L1789.6,256.0 L1790.8,253.8 L1793.4,251.5 L1796.2,249.3 L1797.4,247.0 L1800.2,244.7 L1801.0,242.5 L1803.3,240.2 L1806.4,237.9 L1807.7,235.7 L1809.8,233.4 L1811.8,231.1 L1813.7,228.9 L1816.1,226.6 L1818.0,224.3 L1818.9,222.0 L1821.0,219.8 L1822.3,217.5 L1825.0,215.2 L1827.5,212.9 L1827.7,210.7 L1832.0,208.4 L1831.7,206.1 L1833.5,203.8 L1835.7,201.5 L1838.3,199.3 L1841.5,197.0 L1842.5,194.7 L1845.6,192.4 L1845.5,190.1 L1847.3,187.8 L1850.1,185.6 L1851.4,183.3 L1853.4,181.0 L1856.8,178.7 L1857.7,176.4 L1859.6,174.1 L1861.1,171.8 L1864.6,169.5 L1865.6,167.2 L1867.4,164.9 L1870.4,162.7 L1871.9,160.5 L1873.2,158.3 L1875.5,156.2 L1878.8,154.1 L1880.2,151.9 L1881.6,150.0 L1885.9,150.0 L1888.8,150.0 L1889.0,152.3 L1890.1,155.3 L1890.0,158.3 L1888.6,161.3 L1888.9,164.3 L1889.6,167.3 L1888.9,170.3 L1889.5,173.3 L1889.6,176.3 L1888.2,179.3 L1888.5,182.3 L1890.6,185.3 L1890.1,188.3 L1890.5,191.3 L1889.7,194.3 L1889.1,197.3 L1891.6,200.3 L1891.3,203.2 L1891.8,206.2 L1890.7,209.2 L1890.3,212.2 L1891.6,215.2 L1890.8,218.2 L1889.4,221.2 L1891.3,224.2 L1890.8,227.2 L1889.3,230.2 L1890.1,233.2 L1890.4,236.2 L1888.9,239.2 L1889.2,242.2 L1889.3,245.2 L1888.7,248.2 L1889.1,251.2 L1888.8,254.1 L1888.1,257.1 L1889.5,260.1 L1887.5,263.1 L1888.0,266.1 L1888.5,269.1 L1888.7,272.1 L1886.7,275.1 L1887.0,278.1 L1886.6,281.1 L1885.8,284.1 L1887.2,287.1 L1886.9,290.1 L1887.1,293.1 L1887.3,296.1 L1885.8,299.1 L1886.1,302.1 L1885.0,305.1 L1885.1,308.1 L1884.9,311.0 L1885.7,314.0 L1885.6,317.0 L1883.6,320.0 L1885.1,323.0 L1883.9,326.0 L1885.0,329.0 L1884.0,332.0 L1884.8,335.0 L1884.6,338.0 L1883.6,341.0 L1882.8,344.0 L1883.2,347.0 L1883.3,350.0 L1882.5,353.0 L1881.5,356.0 L1883.0,359.0 L1881.4,362.0 L1882.0,365.0 L1882.7,367.9 L1882.1,370.9 L1882.2,373.9 L1881.7,376.9 L1881.9,379.9 L1880.7,382.9 L1879.8,385.9 L1880.3,388.9 L1879.7,391.9 L1879.2,394.9 L1879.2,397.9 L1880.4,400.9 L1878.8,403.9 L1880.2,406.9 L1879.7,409.9 L1879.0,412.9 L1879.2,415.9 L1877.7,418.9 L1878.2,421.8 L1878.7,424.8 L1878.3,427.8 L1877.1,430.8 L1878.1,433.8 L1878.5,436.8 L1878.4,439.8 L1877.2,442.8 L1876.8,445.8 L1876.9,448.8 L1876.2,451.8 L1877.1,454.8 L1877.5,457.8 L1875.6,460.8 L1875.9,463.8 L1876.2,466.8 L1875.9,469.8 L1875.5,472.8 L1876.3,475.7 L1874.3,478.7 L1875.6,481.7 L1874.2,484.7 L1873.9,487.7 L1873.8,490.7 L1874.2,493.7 L1873.9,496.7 L1874.0,499.7 L1872.6,502.7 L1872.9,505.7 L1873.0,508.7 L1873.5,511.7 L1872.4,514.7 L1872.8,517.7 L1873.2,520.7 L1872.4,523.7 L1872.6,526.6 L1870.8,529.6 L1872.9,532.6 L1872.7,535.6 L1871.5,538.6 L1871.0,541.6 L1870.2,544.6 L1870.5,547.6 L1869.7,550.6 L1870.7,553.6 L1869.5,556.6 L1869.4,559.6 L1869.6,562.6 L1869.6,565.6 L1870.3,568.6 L1869.4,571.6 L1868.3,574.6 L1868.9,577.5 L1869.6,580.5 L1869.7,583.5 L1868.2,586.5 L1867.6,589.5 L1867.1,592.5 L1867.2,595.5 L1866.5,598.5 L1867.7,601.5 L1866.7,604.5 L1867.2,607.5 L1867.4,610.5 L1866.1,613.5 L1865.4,616.5 L1865.2,619.5 L1866.6,622.5 L1865.3,625.4 L1864.8,628.4 L1866.5,631.4 L1864.8,634.4 L1865.9,637.4 L1865.8,640.4 L1864.6,643.4 L1865.0,646.4 L1863.2,649.4 L1864.5,652.4 L1863.8,655.4 L1864.3,658.4 L1863.8,661.4 L1864.3,664.4 L1862.2,667.4 L1863.5,670.4 L1862.1,673.3 L1862.3,676.3 L1862.3,679.3 L1862.7,682.3 L1861.1,685.3 L1861.4,688.3 L1861.9,691.3 L1861.6,694.3 L1860.9,697.3 L1860.1,700.3 L1861.9,703.3 L1861.5,706.3 L1859.9,709.3 L1860.0,712.3 L1859.4,715.3 L1860.6,718.2 L1858.6,721.2 L1859.3,724.2 L1859.4,727.2 L1859.2,730.2 L1858.9,733.2 L1858.8,736.2 L1858.6,739.2 L1858.9,742.2 L1858.9,745.2 L1858.0,748.2 L1857.8,751.2 L1856.3,754.2 L1858.1,757.2 L1855.9,760.2 L1855.7,763.1 L1855.8,766.1 L1855.2,769.1 L1856.2,772.1 L1854.9,775.1 L1855.3,778.1 L1855.2,781.1 L1856.0,784.1 L1855.2,787.1 L1855.2,790.1 L1855.3,793.1 L1853.6,796.1 L1853.7,799.1 L1855.0,802.1 L1854.7,805.0 L1854.3,808.0 L1853.0,811.0 L1853.8,814.0 L1853.8,817.0 L1852.2,820.0 L1851.6,823.0 L1852.7,826.0 L1852.5,829.0 L1851.7,832.0 L1851.6,835.0 L1852.2,838.0 L1850.8,841.0 L1849.9,843.9 L1851.6,846.9 L1851.1,849.9 L1849.6,852.9 L1849.0,855.9 L1848.7,858.9 L1848.8,861.9 L1850.4,864.9 L1848.6,867.9 L1849.5,870.9 L1847.8,873.9 L1848.2,876.8 L1847.8,879.8 L1848.9,882.8 L1846.8,885.8 L1847.9,888.8 L1847.1,891.8 L1848.0,894.8 L1847.7,897.8 L1847.4,900.8 L1846.1,903.8 L1847.0,906.7 L1845.9,909.7 L1845.7,912.7 L1844.4,915.7 L1845.5,918.7 L1844.0,921.7 L1843.9,924.7 L1845.1,927.7 L1843.3,930.7 L1844.0,933.6 L1843.1,936.6 L1844.2,939.6 L1842.4,942.6 L1842.0,945.6 L1842.4,948.6 L1841.6,951.6 L1841.4,954.6 L1842.2,957.5 L1840.2,960.5 L1840.6,963.5 L1841.4,966.5 L1840.0,969.5 L1839.6,972.5 L1839.0,975.4 L1838.6,978.4 L1839.3,981.4 L1838.4,984.4 L1837.6,987.4 L1837.2,990.4 L1838.0,993.4 L1837.4,996.3 L1836.1,999.3 L1837.0,1002.3 L1837.0,1005.3 L1835.6,1008.3 L1835.4,1011.2 L1836.0,1014.2 L1836.1,1017.2 L1836.0,1020.2 L1835.3,1023.2 L1835.2,1026.1 L1833.9,1029.1 L1833.6,1032.1 L1833.1,1035.1 L1833.4,1038.1 L1833.0,1041.0 L1831.8,1044.0 L1832.2,1047.0 L1830.5,1050.0 L1832.0,1053.0 L1831.2,1055.9 L1830.4,1058.9 L1828.8,1061.9 L1829.2,1064.9 L1828.6,1067.8 L1829.6,1070.8 L1828.5,1073.8 L1828.7,1076.8 L1828.2,1079.7 L1826.0,1082.7 L1826.1,1085.7 L1826.9,1088.6 L1826.7,1091.6 L1824.9,1094.6 L1824.7,1097.6 L1824.7,1100.5 L1823.2,1103.5 L1823.6,1106.5 L1823.2,1109.4 L1823.5,1112.4 L1822.1,1115.4 L1820.8,1118.3 L1822.3,1121.3 L1820.1,1124.3 L1821.5,1127.2 L1821.1,1130.2 L1819.9,1133.2 L1818.1,1136.1 L1819.8,1139.1 L1818.1,1142.0 L1818.9,1145.0 L1816.8,1148.0 L1817.9,1150.9 L1816.6,1153.9 L1814.8,1156.9 L1815.0,1159.8 L1814.7,1162.8 L1815.0,1165.7 L1813.0,1168.7 L1814.0,1171.6 L1812.4,1174.6 L1812.2,1177.5 L1810.6,1180.5 L1811.5,1183.5 L1810.5,1186.4 L1809.2,1189.4 L1810.0,1192.3 L1809.3,1195.3 L1807.5,1198.2 L1807.7,1201.2 L1807.1,1204.1 L1806.8,1207.1 L1807.4,1210.0 L1805.7,1212.9 L1804.0,1215.9 L1805.1,1218.8 L1803.2,1221.8 L1803.9,1224.7 L1802.5,1227.7 L1803.0,1230.6 L1802.7,1233.5 L1800.0,1236.5 L1800.2,1239.4 L1799.2,1242.3 L1798.6,1245.3 L1798.1,1248.2 L1798.6,1251.1 L1796.1,1254.1 L1796.7,1257.0 L1794.8,1259.9 L1794.7,1262.9 L1794.7,1265.8 L1793.6,1268.7 L1793.0,1271.7 L1791.8,1274.6 L1791.9,1277.5 L1790.6,1280.4 L1789.5,1283.4 L1790.2,1286.3 L1789.1,1289.2 L1788.7,1292.1 L1787.0,1295.0 L1787.1,1297.9 L1786.4,1300.9 L1786.3,1303.8 L1784.1,1306.7 L1784.5,1309.6 L1783.6,1312.5 L1783.6,1315.4 L1780.9,1318.3 L1782.2,1321.2 L1781.5,1324.1 L1779.9,1327.0 L1779.9,1329.9 L1779.2,1332.8 L1776.4,1335.7 L1777.5,1338.6 L1775.4,1341.5 L1775.5,1344.4 L1774.5,1347.3 L1773.0,1350.2 L1773.5,1353.1 L1772.3,1356.0 L1771.3,1358.9 L1769.8,1361.8 L1768.4,1364.7 L1767.7,1367.6 L1767.5,1370.4 L1766.1,1373.3 L1767.4,1376.2 L1765.6,1379.1 L1765.7,1382.0 L1764.3,1384.8 L1762.5,1387.7 L1762.0,1390.6 L1761.1,1393.5 L1760.3,1396.3" stroke="#008080"/>
<path d="M281.0,1392.0 L283.9,1391.2 L286.8,1390.5 L288.7,1389.7 L291.6,1388.9 L296.6,1388.2 L299.4,1387.4 L300.7,1386.1 L304.2,1384.2 L305.5,1382.3 L308.6,1380.4 L309.6,1378.5 L313.1,1376.6 L315.5,1375.0 L316.9,1373.3 L320.6,1371.7 L322.8,1370.1 L326.2,1368.5 L328.5,1366.8 L329.6,1365.2 L332.6,1363.6 L334.1,1361.9 L337.4,1360.3 L339.6,1358.7 L343.0,1357.3 L346.0,1355.9 L349.1,1354.6 L351.7,1353.2 L353.1,1351.8 L357.1,1350.4 L357.9,1349.0 L362.4,1347.6 L363.4,1346.3 L366.6,1344.9 L368.6,1343.5 L373.2,1342.2 L374.2,1340.8 L377.1,1339.4 L380.2,1338.0 L381.8,1336.7 L384.8,1335.3 L389.0,1333.9 L391.3,1332.6 L394.1,1331.2 L396.5,1329.9 L398.5,1328.5 L402.7,1327.1 L404.7,1325.8 L407.8,1324.4 L409.8,1323.1 L412.9,1321.7 L414.9,1320.4 L418.7,1319.0 L420.5,1317.7 L423.0,1316.3 L426.3,1315.0 L428.2,1313.6 L430.2,1312.3 L433.5,1310.9 L437.1,1309.6 L439.2,1308.2 L442.3,1306.9 L445.1,1305.5 L446.3,1304.2 L450.5,1302.8 L452.0,1301.5 L455.7,1300.1 L458.7,1298.8 L460.6,1297.4 L464.5,1296.1 L465.0,1294.8 L468.5,1293.4 L471.2,1292.1 L474.5,1290.7 L476.5,1289.4 L480.5,1288.0 L482.1,1286.7 L483.8,1285.3 L487.5,1284.0 L489.2,1282.7 L493.5,1281.3 L496.7,1280.0 L498.6,1278.6 L500.7,1277.3 L502.7,1275.9 L507.0,1274.6 L509.1,1273.2 L511.4,1271.9 L513.6,1270.5 L517.1,1269.2 L518.6,1267.9 L522.8,1266.5 L524.1,1265.2 L527.8,1263.8 L530.6,1262.5 L532.0,1261.1 L535.5,1259.7 L537.5,1258.4 L541.1,1257.0 L544.9,1255.7 L546.7,1254.3 L549.9,1253.0 L551.4,1251.6 L554.1,1250.3 L556.9,1248.9 L558.9,1247.5 L563.2,1246.2 L564.7,1244.8 L567.9,1243.4 L571.4,1242.1 L573.7,1240.7 L575.9,1239.3 L578.8,1238.0 L581.2,1236.6 L583.2,1235.2 L586.8,1233.9 L589.7,1232.5 L592.8,1231.1 L594.8,1229.7 L596.9,1228.4 L599.8,1227.0 L601.9,1225.6 L605.7,1224.2 L607.9,1222.8 L609.6,1221.4 L612.9,1220.0 L615.0,1218.7 L618.1,1217.3 L620.4,1215.9 L623.0,1214.5 L626.8,1213.1 L630.1,1211.7 L631.7,1210.3 L635.4,1208.9 L635.8,1207.5 L640.3,1206.0 L642.1,1204.6 L645.8,1203.2 L648.3,1201.8 L649.8,1200.4 L652.6,1199.0 L656.6,1197.6 L658.0,1196.1 L659.9,1194.7 L664.1,1193.3 L666.7,1191.8 L668.6,1190.4 L672.5,1189.0 L673.4,1187.5 L677.2,1186.1 L679.5,1184.7 L682.8,1183.2 L683.8,1181.8 L687.4,1180.3 L689.2,1178.9 L692.0,1177.4 L694.4,1175.9 L698.8,1174.5 L700.2,1173.0 L702.0,1171.5 L704.7,1170.1 L707.5,1168.6 L711.8,1167.1 L713.0,1165.7 L715.4,1164.2 L717.8,1162.7 L720.5,1161.2 L724.0,1159.7 L727.3,1158.2 L728.4,1156.7 L730.4,1155.2 L733.7,1153.7 L736.2,1152.2 L739.5,1150.7 L742.9,1149.2 L744.0,1147.7 L748.2,1146.2 L749.2,1144.7 L752.8,1143.1 L753.7,1141.6 L756.7,1140.1 L760.5,1138.5 L762.3,1137.0 L764.3,1135.5 L768.5,1133.9 L771.4,1132.4 L772.6,1130.8 L775.5,1129.3 L777.1,1127.7 L781.2,1126.2 L782.7,1124.6 L786.4,1123.0 L788.8,1121.5 L789.9,1119.9 L794.5,1118.3 L795.0,1116.7 L799.4,1115.1 L802.2,1113.6 L803.2,1112.0 L805.5,1110.4 L808.6,1108.8 L810.4,1107.2 L814.6,1105.6 L815.5,1104.0 L819.5,1102.3 L820.4,1100.7 L824.1,1099.1 L826.6,1097.5 L828.1,1095.9 L830.4,1094.2 L833.0,1092.6 L837.5,1090.9 L839.1,1089.3 L841.9,1087.7 L844.0,1086.0 L847.5,1084.4 L847.9,1082.7 L850.8,1081.0 L853.6,1079.4 L856.2,1077.7 L859.5,1076.0 L862.5,1074.4 L864.7,1072.7 L866.9,1071.0 L869.5,1069.3 L872.2,1067.6 L873.5,1065.9 L876.3,1064.2 L878.3,1062.5 L882.1,1060.8 L883.0,1059.1 L885.2,1057.4 L888.2,1055.7 L889.9,1053.9 L893.8,1052.2 L896.8,1050.5 L899.5,1048.7 L901.9,1047.0 L903.7,1045.3 L906.1,1043.5 L907.5,1041.8 L910.1,1040.0 L913.1,1038.3 L916.6,1036.5 L918.0,1034.7 L920.2,1033.0 L923.8,1031.2 L925.7,1029.4 L928.5,1027.6 L928.8,1025.8 L931.6,1024.1 L934.3,1022.3 L938.2,1020.5 L939.8,1018.7 L941.8,1016.9 L944.8,1015.1 L946.9,1013.3 L948.1,1011.5 L951.1,1009.6 L952.8,1007.8 L955.9,1006.0 L958.1,1004.2 L960.3,1002.4 L964.4,1000.5 L967.0,998.7 L968.1,996.9 L971.7,995.0 L973.4,993.2 L974.6,991.3 L977.2,989.5 L979.8,987.7 L982.2,985.8 L984.1,983.9 L988.1,982.1 L988.4,980.2 L992.5,978.4 L995.2,976.5 L996.7,974.6 L998.0,972.8 L1001.7,970.9 L1004.7,969.0 L1007.0,967.1 L1007.6,965.3 L1010.2,963.4 L1014.1,961.5 L1015.4,959.6 L1016.8,957.7 L1019.0,955.8 L1021.9,953.9 L1025.1,952.0 L1026.2,950.1 L1030.0,948.3 L1032.3,946.3 L1033.1,944.4 L1037.2,942.5 L1037.3,940.6 L1041.3,938.7 L1043.7,936.8 L1044.5,934.9 L1047.1,933.0 L1049.6,931.1 L1052.2,929.1 L1055.1,927.2 L1057.7,925.3 L1059.1,923.4 L1061.8,921.4 L1063.6,919.5 L1067.2,917.6 L1069.5,915.6 L1071.2,913.7 L1071.9,911.8 L1076.2,909.8 L1077.5,907.9 L1079.8,905.9 L1082.7,904.0 L1084.7,902.1 L1085.5,900.1 L1088.6,898.2 L1092.2,896.2 L1093.9,894.3 L1094.8,892.3 L1098.6,890.4 L1100.5,888.4 L1103.3,886.4 L1104.8,884.5 L1107.2,882.5 L1110.2,880.6 L1111.1,878.6 L1114.5,876.6 L1115.7,874.7 L1119.5,872.7 L1120.7,870.7 L1122.2,868.8 L1126.1,866.8 L1128.4,864.8 L1129.3,862.8 L1133.0,860.9 L1133.8,858.9 L1136.1,856.9 L1137.8,854.9 L1142.1,853.0 L1144.4,851.0 L1145.3,849.0 L1149.1,847.0 L1149.1,845.0 L1152.0,843.1 L1154.3,841.1 L1155.7,839.1 L1159.1,837.1 L1162.4,835.1 L1163.5,833.1 L1166.7,831.1 L1167.2,829.1 L1170.8,827.1 L1172.5,825.2 L1174.1,823.2 L1177.2,821.2 L1179.7,819.2 L1182.1,817.2 L1183.8,815.2 L1184.9,813.2 L1189.0,811.2 L1190.8,809.2 L1193.3,807.2 L1195.8,805.2 L1196.0,803.2 L1200.0,801.2 L1202.0,799.2 L1204.4,797.2 L1205.0,795.2 L1207.4,793.2 L1209.8,791.2 L1212.4,789.1 L1214.7,787.1 L1217.3,785.1 L1218.6,783.1 L1220.9,781.1 L1223.1,779.1 L1225.1,777.1 L1229.1,775.1 L1231.6,773.1 L1233.0,771.0 L1235.4,769.0 L1238.4,767.0 L1238.8,765.0 L1241.5,763.0 L1244.9,761.0 L1247.0,758.9 L1248.6,756.9 L1250.0,754.9 L1252.0,752.9 L1255.6,750.8 L1257.7,748.8 L1259.5,746.8 L1262.0,744.7 L1262.8,742.7 L1265.5,740.7 L1267.7,738.6 L1271.4,736.6 L1271.6,734.6 L1275.1,732.5 L1276.6,730.5 L1279.8,728.4 L1281.7,726.4 L1284.2,724.4 L1286.6,722.3 L1287.3,720.3 L1291.1,718.2 L1293.4,716.2 L1293.8,714.1 L1296.9,712.0 L1299.4,710.0 L1300.4,707.9 L1302.2,705.9 L1305.4,703.8 L1306.9,701.7 L1310.8,699.7 L1312.6,697.6 L1314.0,695.5 L1316.3,693.5 L1317.7,691.4 L1321.5,689.3 L1321.7,687.2 L1325.4,685.2 L1326.6,683.1 L1329.4,681.0 L1331.3,678.9 L1333.1,676.8 L1336.5,674.8 L1338.8,672.7 L1340.2,670.6 L1342.9,668.5 L1343.9,666.4 L1347.6,664.3 L1348.3,662.2 L1350.1,660.1 L1353.0,658.0 L1356.2,655.9 L1357.0,653.8 L1359.5,651.7 L1360.5,649.6 L1362.7,647.5 L1365.5,645.4 L1368.0,643.3 L1370.4,641.2 L1372.0,639.1 L1373.5,637.0 L1376.9,634.9 L1378.1,632.8 L1381.9,630.7 L1382.6,628.6 L1384.5,626.5 L1387.1,624.4 L1389.2,622.2 L1390.5,620.1 L1393.2,618.0 L1395.9,615.9 L1398.2,613.8 L1399.7,611.7 L1402.1,609.5 L1405.1,607.4 L1406.3,605.3 L1409.0,603.2 L1409.5,601.1 L1412.9,598.9 L1415.7,596.8 L1417.8,594.7 L1418.7,592.6 L1422.2,590.4 L1423.9,588.3 L1425.3,586.2 L1426.5,584.1 L1428.7,581.9 L1432.1,579.8 L1434.4,577.7 L1436.9,575.6 L1438.9,573.4 L1439.8,571.3 L1441.5,569.2 L1444.3,567.0 L1446.9,564.9 L1448.4,562.8 L1451.2,560.6 L1453.3,558.5 L1455.0,556.4 L1457.2,554.2 L1459.4,552.1 L1460.5,550.0 L1463.2,547.8 L1465.2,545.7 L1467.7,543.5 L1469.7,541.4 L1471.9,539.3 L1474.9,537.1 L1475.6,535.0 L1477.6,532.8 L1481.5,530.7 L1482.6,528.5 L1485.0,526.4 L1486.0,524.3 L1489.1,522.1 L1491.4,520.0 L1494.0,517.8 L1493.8,515.7 L1498.3,513.5 L1499.5,511.4 L1501.1,509.2 L1503.3,507.1 L1505.0,504.9 L1507.7,502.8 L1509.7,500.6 L1512.2,498.5 L1513.3,496.3 L1514.8,494.2 L1517.9,492.0 L1521.1,489.9 L1521.7,487.7 L1523.4,485.6 L1525.8,483.4 L1529.1,481.2 L1530.6,479.1 L1531.5,476.9 L1534.8,474.8 L1536.4,472.6 L1539.1,470.5 L1542.0,468.3 L1543.8,466.1 L1545.0,464.0 L1546.5,461.8 L1548.6,459.6 L1552.1,457.5 L1554.5,455.3 L1554.5,453.2 L1558.6,451.0 L1558.9,448.8 L1561.1,446.7 L1563.3,444.5 L1564.9,442.3 L1568.4,440.2 L1570.9,438.0 L1571.7,435.8 L1574.5,433.7 L1575.6,431.5 L1578.8,429.3 L1581.2,427.2 L1582.9,425.0 L1583.6,422.8 L1586.0,420.7 L1588.7,418.5 L1591.1,416.3 L1594.0,414.1 L1595.3,412.0 L1595.9,409.8 L1600.2,407.6 L1600.1,405.5 L1604.1,403.3 L1604.7,401.1 L1607.8,398.9 L1608.7,396.8 L1612.3,394.6 L1614.6,392.4 L1615.9,390.2 L1617.5,388.1 L1619.0,385.9 L1621.6,383.7 L1623.2,381.5 L1625.9,379.4 L1628.5,377.2 L1631.1,375.0 L1632.9,372.8 L1634.8,370.6 L1635.7,368.5 L1637.8,366.3 L1641.4,364.1 L1641.8,361.9 L1643.5,359.7 L1647.3,357.6 L1648.2,355.4 L1651.4,353.2 L1652.0,351.0 L1655.4,348.8 L1657.2,346.6 L1657.9,344.5 L1660.8,342.3 L1662.9,340.1 L1665.4,337.9 L1667.1,335.7 L1668.3,333.5 L1672.3,331.3 L1672.4,329.2 L1674.1,327.0 L1678.3,324.8 L1678.8,322.6 L1682.1,320.4 L1682.8,318.2 L1685.8,316.0 L1688.0,313.8 L1688.7,311.7 L1690.8,309.5 L1693.0,307.3 L1695.7,305.1 L1698.0,302.9 L1700.8,300.7 L1702.8,298.5 L1703.2,296.3 L1705.9,294.1 L1708.3,291.9 L1710.4,289.8 L1712.2,287.6 L1714.2,285.4 L1715.2,283.2 L1717.2,281.0 L1720.4,278.8 L1723.0,276.6 L1723.4,274.4 L1727.7,272.2 L1729.3,270.0 L1731.5,267.8 L1732.1,265.6 L1734.7,263.4 L1736.2,261.2 L1738.0,259.0 L1739.9,256.9 L1744.0,254.7 L1746.0,252.5 L1748.1,250.3 L1748.5,248.1 L1751.1,245.9 L1753.8,243.7 L1756.3,241.5 L1757.5,239.3 L1758.1,237.1 L1762.0,234.9 L1763.0,232.7 L1765.4,230.5 L1767.8,228.3 L1769.1,226.1 L1771.0,223.9 L1773.3,221.7 L1775.0,219.5 L1777.0,217.3 L1780.6,215.1 L1782.0,212.9 L1783.1,210.6 L1786.3,208.4 L1786.8,206.2 L1790.5,204.0 L1791.2,201.8 L1793.1,199.6 L1795.2,197.4 L1798.1,195.2 L1799.7,193.0 L1802.6,190.8 L1803.7,188.6 L1805.0,186.3 L1808.7,184.1 L1810.3,181.9 L1811.5,179.7 L1814.1,177.5 L1816.4,175.3 L1818.6,173.0 L1820.4,170.8 L1822.4,168.6 L1824.8,166.4 L1825.1,164.2 L1828.3,161.9 L1829.1,159.6 L1831.3,157.3 L1832.8,155.0 L1834.8,152.7 L1837.8,150.3 L1838.2,152.5 L1839.0,155.5 L1838.7,158.5 L1839.8,161.4 L1840.0,164.4 L1840.9,167.4 L1842.3,170.3 L1841.5,173.3 L1842.4,176.3 L1841.3,179.3 L1840.2,182.3 L1842.3,185.3 L1840.2,188.3 L1841.6,191.3 L1841.8,194.3 L1840.4,197.3 L1841.2,200.3 L1840.5,203.3 L1841.6,206.3 L1840.1,209.3 L1840.9,212.3 L1840.3,215.3 L1841.4,218.3 L1840.9,221.3 L1840.9,224.2 L1838.8,227.2 L1839.7,230.2 L1838.5,233.2 L1838.5,236.2 L1838.9,239.2 L1838.5,242.2 L1837.2,245.2 L1837.5,248.2 L1836.7,251.2 L1836.3,254.1 L1838.4,257.1 L1837.7,260.1 L1837.7,263.1 L1837.1,266.1 L1836.4,269.1 L1835.4,272.1 L1836.6,275.1 L1835.2,278.1 L1834.4,281.1 L1833.9,284.0 L1834.3,287.0 L1834.7,290.0 L1833.1,293.0 L1834.1,296.0 L1833.3,299.0 L1834.4,302.0 L1834.3,305.0 L1833.1,308.0 L1832.1,310.9 L1832.4,313.9 L1831.4,316.9 L1832.1,319.9 L1831.3,322.9 L1832.2,325.9 L1831.6,328.9 L1832.1,331.9 L1829.6,334.9 L1831.2,337.8 L1829.9,340.8 L1829.6,343.8 L1829.6,346.8 L1828.6,349.8 L1828.4,352.8 L1828.6,355.8 L1828.3,358.8 L1828.8,361.8 L1828.8,364.7 L1827.2,367.7 L1826.4,370.7 L1827.5,373.7 L1826.2,376.7 L1825.6,379.7 L1825.4,382.7 L1825.1,385.7 L1825.0,388.6 L1825.7,391.6 L1826.1,394.6 L1824.3,397.6 L1825.5,400.6 L1825.5,403.6 L1823.9,406.6 L1823.3,409.6 L1822.7,412.5 L1823.1,415.5 L1823.3,418.5 L1823.8,421.5 L1823.4,424.5 L1823.4,427.5 L1820.8,430.5 L1822.6,433.5 L1820.7,436.4 L1822.2,439.4 L1821.4,442.4 L1820.0,445.4 L1820.2,448.4 L1820.3,451.4 L1820.5,454.4 L1819.8,457.4 L1818.2,460.3 L1819.2,463.3 L1817.4,466.3 L1818.6,469.3 L1818.6,472.3 L1817.0,475.3 L1817.1,478.3 L1818.0,481.2 L1816.7,484.2 L1817.4,487.2 L1816.5,490.2 L1814.8,493.2 L1816.0,496.2 L1815.7,499.2 L1814.2,502.1 L1814.9,505.1 L1813.3,508.1 L1813.0,511.1 L1815.0,514.1 L1812.9,517.1 L1813.5,520.1 L1813.6,523.0 L1813.7,526.0 L1813.2,529.0 L1811.2,532.0 L1810.7,535.0 L1810.5,538.0 L1812.0,541.0 L1811.6,543.9 L1809.5,546.9 L1810.8,549.9 L1810.9,552.9 L1809.6,555.9 L1810.4,558.9 L1808.1,561.8 L1809.8,564.8 L1808.7,567.8 L1807.4,570.8 L1807.9,573.8 L1807.6,576.8 L1807.7,579.7 L1806.5,582.7 L1807.8,585.7 L1806.4,588.7 L1805.7,591.7 L1805.6,594.7 L1805.1,597.7 L1806.1,600.6 L1805.3,603.6 L1805.0,606.6 L1805.1,609.6 L1803.9,612.6 L1803.3,615.6 L1803.9,618.5 L1803.6,621.5 L1801.9,624.5 L1803.0,627.5 L1800.9,630.5 L1801.8,633.5 L1800.4,636.4 L1801.1,639.4 L1801.2,642.4 L1800.3,645.4 L1799.3,648.4 L1799.0,651.3 L1798.3,654.3 L1799.3,657.3 L1797.6,660.3 L1798.7,663.3 L1797.9,666.3 L1797.5,669.2 L1797.2,672.2 L1797.3,675.2 L1795.9,678.2 L1795.5,681.2 L1797.1,684.1 L1796.5,687.1 L1794.3,690.1 L1795.5,693.1 L1794.7,696.1 L1795.5,699.1 L1794.6,702.0 L1793.3,705.0 L1792.6,708.0 L1792.1,711.0 L1791.9,714.0 L1793.0,716.9 L1791.3,719.9 L1790.8,722.9 L1791.4,725.9 L1790.9,728.9 L1790.8,731.8 L1791.3,734.8 L1790.7,737.8 L1789.3,740.8 L1789.9,743.8 L1789.4,746.7 L1789.7,749.7 L1788.9,752.7 L1787.1,755.7 L1787.4,758.7 L1787.9,761.6 L1788.0,764.6 L1787.6,767.6 L1786.4,770.6 L1786.9,773.6 L1785.6,776.5 L1786.2,779.5 L1784.5,782.5 L1784.0,785.5 L1783.4,788.5 L1783.7,791.4 L1782.3,794.4 L1782.6,797.4 L1781.9,800.4 L1783.3,803.4 L1781.7,806.3 L1780.7,809.3 L1781.9,812.3 L1781.9,815.3 L1779.9,818.3 L1779.7,821.2 L1780.5,824.2 L1779.2,827.2 L1778.8,830.2 L1778.4,833.1 L1778.5,836.1 L1776.8,839.1 L1777.5,842.1 L1776.6,845.1 L1777.7,848.0 L1777.5,851.0 L1776.1,854.0 L1776.8,857.0 L1774.3,859.9 L1775.6,862.9 L1775.2,865.9 L1773.7,868.9 L1773.9,871.8 L1774.0,874.8 L1773.7,877.8 L1772.6,880.8 L1772.1,883.8 L1771.4,886.7 L1771.9,889.7 L1770.2,892.7 L1772.0,895.7 L1770.2,898.6 L1769.0,901.6 L1769.9,904.6 L1769.7,907.6 L1768.7,910.5 L1767.7,913.5 L1767.2,916.5 L1768.6,919.5 L1768.6,922.4 L1768.2,925.4 L1766.2,928.4 L1766.4,931.4 L1767.0,934.3 L1766.4,937.3 L1765.1,940.3 L1764.3,943.3 L1763.8,946.2 L1764.0,949.2 L1762.9,952.2 L1762.5,955.2 L1762.6,958.1 L1763.5,961.1 L1763.0,964.1 L1762.5,967.1 L1761.0,970.0 L1761.6,973.0 L1759.5,976.0 L1760.2,978.9 L1759.7,981.9 L1758.9,984.9 L1759.3,987.9 L1758.5,990.8 L1756.9,993.8 L1758.2,996.8 L1756.5,999.7 L1755.9,1002.7 L1757.2,1005.7 L1754.9,1008.7 L1755.5,1011.6 L1754.8,1014.6 L1755.7,1017.6 L1754.3,1020.5 L1753.1,1023.5 L1754.3,1026.5 L1753.1,1029.4 L1751.8,1032.4 L1752.4,1035.4 L1750.9,1038.3 L1751.3,1041.3 L1749.4,1044.3 L1751.2,1047.2 L1748.9,1050.2 L1749.1,1053.2 L1749.0,1056.1 L1749.2,1059.1 L1747.4,1062.1 L1747.0,1065.0 L1745.9,1068.0 L1746.7,1071.0 L1745.1,1073.9 L1744.5,1076.9 L1744.9,1079.9 L1745.7,1082.8 L1745.4,1085.8 L1743.5,1088.7 L1744.1,1091.7 L1743.6,1094.7 L1743.0,1097.6 L1741.1,1100.6 L1741.9,1103.6 L1740.3,1106.5 L1739.5,1109.5 L1740.8,1112.4 L1739.9,1115.4 L1739.5,1118.3 L1739.4,1121.3 L1738.3,1124.3 L1736.3,1127.2 L1737.9,1130.2 L1736.1,1133.1 L1737.0,1136.1 L1734.2,1139.0 L1734.3,1142.0 L1734.1,1145.0 L1733.7,1147.9 L1732.6,1150.9 L1731.6,1153.8 L1731.7,1156.8 L1731.7,1159.7 L1731.1,1162.7 L1730.4,1165.6 L1728.9,1168.6 L1730.0,1171.5 L1729.6,1174.5 L1728.2,1177.4 L1728.3,1180.4 L1727.6,1183.3 L1725.8,1186.3 L1726.0,1189.2 L1726.1,1192.2 L1724.4,1195.1 L1725.5,1198.1 L1724.5,1201.0 L1722.5,1204.0 L1723.6,1206.9 L1721.9,1209.8 L1722.1,1212.8 L1721.9,1215.7 L1720.9,1218.7 L1718.7,1221.6 L1718.6,1224.6 L1718.8,1227.5 L1717.9,1230.4 L1718.1,1233.4 L1717.3,1236.3 L1715.8,1239.2 L1716.4,1242.2 L1715.9,1245.1 L1714.9,1248.1 L1713.4,1251.0 L1714.4,1253.9 L1712.0,1256.9 L1711.1,1259.8 L1711.5,1262.7 L1711.3,1265.7 L1710.2,1268.6 L1708.3,1271.5 L1708.9,1274.4 L1708.3,1277.4 L1707.6,1280.3 L1706.8,1283.2 L1707.1,1286.2 L1704.9,1289.1 L1704.1,1292.0 L1704.4,1294.9 L1704.0,1297.9 L1702.2,1300.8 L1701.8,1303.7 L1702.0,1306.6 L1700.0,1309.5 L1700.0,1312.5 L1699.2,1315.4 L1699.6,1318.3 L1697.7,1321.2 L1697.7,1324.1 L1695.8,1327.0 L1696.2,1330.0 L1694.8,1332.9 L1694.0,1335.8 L1694.0,1338.7 L1691.8,1341.6 L1693.3,1344.5 L1691.1,1347.4 L1689.6,1350.3 L1690.6,1353.2 L1689.3,1356.2 L1688.8,1359.1 L1687.9,1362.0 L1686.8,1364.9 L1687.2,1367.8 L1685.1,1370.7 L1684.3,1373.6 L1683.0,1376.5 L1684.1,1379.4 L1681.7,1382.3 L1680.9,1385.2 L1681.7,1388.1 L1680.0,1390.9 L1679.2,1393.8 L1678.4,1396.7" stroke="#ff00ff"/>
<path d="M276.0,1392.0 L276.5,1389.0 L277.0,1386.1 L279.7,1384.3 L280.6,1382.5 L284.6,1380.7 L285.9,1378.9 L289.6,1377.1 L291.7,1375.5 L295.1,1374.3 L297.6,1373.1 L299.1,1371.9 L301.9,1370.6 L305.0,1369.4 L306.8,1368.2 L310.4,1367.0 L313.4,1365.7 L317.2,1364.5 L318.9,1363.3 L321.9,1362.1 L324.5,1360.9 L327.6,1359.6 L330.3,1358.4 L333.2,1357.2 L335.2,1356.0 L337.6,1354.8 L342.0,1353.6 L343.8,1352.5 L346.1,1351.4 L349.1,1350.3 L351.3,1349.2 L354.9,1348.0 L358.6,1346.9 L360.7,1345.7 L363.8,1344.6 L366.2,1343.4 L368.8,1342.3 L371.9,1341.1 L374.4,1339.9 L376.8,1338.8 L380.5,1337.6 L383.4,1336.4 L384.8,1335.2 L388.7,1334.0 L390.5,1332.8 L393.2,1331.6 L395.0,1330.4 L399.0,1329.2 L401.1,1328.0 L405.1,1326.8 L408.1,1325.5 L409.2,1324.3 L412.8,1323.1 L416.2,1321.8 L418.5,1320.6 L421.2,1319.4 L424.2,1318.1 L425.9,1316.8 L430.0,1315.6 L431.8,1314.3 L434.6,1313.0 L436.1,1311.8 L439.5,1310.5 L442.5,1309.2 L444.2,1307.9 L447.2,1306.6 L450.6,1305.3 L453.1,1304.0 L455.0,1302.7 L459.5,1301.4 L462.5,1300.1 L465.3,1298.8 L466.7,1297.5 L470.6,1296.1 L472.6,1294.8 L475.0,1293.5 L476.7,1292.1 L480.9,1290.8 L484.0,1289.4 L486.6,1288.1 L488.6,1286.7 L492.1,1285.4 L492.8,1284.0 L496.2,1282.6 L499.2,1281.3 L501.0,1279.9 L504.0,1278.5 L506.7,1277.1 L510.7,1275.8 L513.3,1274.4 L515.2,1273.0 L517.1,1271.6 L520.5,1270.2 L523.6,1268.8 L526.1,1267.4 L527.5,1265.9 L531.6,1264.5 L534.4,1263.1 L536.6,1261.7 L539.9,1260.2 L540.7,1258.8 L543.4,1257.4 L547.2,1255.9 L548.4,1254.5 L551.1,1253.0 L553.6,1251.6 L556.6,1250.1 L558.9,1248.7 L563.2,1247.2 L566.2,1245.8 L567.5,1244.3 L569.6,1242.8 L573.9,1241.3 L575.5,1239.9 L578.0,1238.4 L580.5,1236.9 L582.8,1235.4 L585.2,1233.9 L588.2,1232.4 L591.8,1230.9 L594.7,1229.4 L597.3,1227.9 L599.3,1226.4 L600.8,1224.9 L605.0,1223.3 L606.9,1221.8 L608.7,1220.3 L611.9,1218.8 L615.1,1217.2 L617.9,1215.7 L620.4,1214.2 L621.3,1212.6 L625.3,1211.1 L628.1,1209.5 L628.8,1208.0 L633.3,1206.4 L636.0,1204.9 L638.3,1203.3 L640.6,1201.8 L641.9,1200.2 L645.9,1198.6 L647.1,1197.0 L650.2,1195.5 L654.0,1193.9 L654.4,1192.3 L659.1,1190.7 L661.2,1189.1 L662.3,1187.5 L665.3,1185.9 L669.3,1184.3 L671.5,1182.7 L673.3,1181.1 L675.7,1179.5 L677.2,1177.9 L681.0,1176.3 L684.3,1174.7 L686.1,1173.1 L689.3,1171.5 L691.2,1169.8 L693.0,1168.2 L694.8,1166.6 L697.5,1164.9 L701.9,1163.3 L704.5,1161.7 L707.1,1160.0 L707.7,1158.4 L710.3,1156.7 L712.7,1155.1 L717.1,1153.4 L719.3,1151.8 L721.8,1150.1 L723.9,1148.4 L724.9,1146.8 L728.8,1145.1 L730.5,1143.4 L732.8,1141.8 L735.0,1140.1 L739.5,1138.4 L741.1,1136.7 L742.6,1135.0 L747.0,1133.4 L747.9,1131.7 L749.9,1130.0 L752.5,1128.3 L756.0,1126.6 L759.2,1124.9 L761.7,1123.2 L763.2,1121.5 L765.3,1119.8 L767.1,1118.1 L771.2,1116.3 L773.2,1114.6 L775.4,1112.9 L778.1,1111.2 L781.1,1109.5 L782.0,1107.7 L786.2,1106.0 L787.3,1104.3 L791.3,1102.6 L792.7,1100.8 L795.9,1099.1 L798.5,1097.3 L799.3,1095.6 L803.0,1093.8 L805.3,1092.1 L808.0,1090.4 L810.2,1088.6 L812.7,1086.8 L814.8,1085.1 L817.1,1083.3 L820.1,1081.6 L821.7,1079.8 L825.2,1078.0 L827.1,1076.3 L828.7,1074.5 L832.8,1072.7 L834.4,1070.9 L836.9,1069.2 L838.6,1067.4 L840.8,1065.6 L842.9,1063.8 L845.6,1062.0 L848.0,1060.2 L850.5,1058.4 L853.4,1056.6 L855.0,1054.8 L857.2,1053.0 L861.1,1051.2 L861.9,1049.4 L865.2,1047.6 L867.9,1045.8 L869.2,1044.0 L871.8,1042.2 L875.9,1040.4 L876.5,1038.6 L878.7,1036.8 L881.3,1034.9 L884.1,1033.1 L885.9,1031.3 L888.0,1029.5 L892.2,1027.6 L892.8,1025.8 L896.1,1024.0 L898.0,1022.1 L900.5,1020.3 L903.7,1018.4 L904.8,1016.6 L908.5,1014.8 L909.5,1012.9 L912.2,1011.1 L914.1,1009.2 L916.7,1007.4 L920.7,1005.5 L921.8,1003.7 L925.5,1001.8 L927.8,999.9 L928.8,998.1 L932.0,996.2 L934.1,994.3 L935.8,992.5 L938.9,990.6 L940.8,988.7 L943.0,986.9 L946.5,985.0 L948.8,983.1 L951.3,981.2 L953.8,979.3 L956.0,977.5 L957.8,975.6 L959.2,973.7 L962.6,971.8 L963.5,969.9 L967.4,968.0 L969.4,966.1 L970.6,964.2 L974.1,962.3 L975.3,960.4 L977.8,958.5 L981.0,956.6 L982.5,954.7 L985.4,952.8 L987.5,950.9 L990.1,949.0 L991.5,947.1 L993.5,945.1 L997.5,943.2 L999.0,941.3 L1002.4,939.4 L1003.2,937.5 L1005.5,935.5 L1007.3,933.6 L1010.6,931.7 L1012.5,929.8 L1016.2,927.8 L1018.7,925.9 L1020.6,924.0 L1021.5,922.0 L1023.8,920.1 L1027.1,918.1 L1028.7,916.2 L1031.4,914.3 L1032.6,912.3 L1035.1,910.4 L1039.3,908.4 L1039.7,906.5 L1043.9,904.5 L1045.8,902.6 L1048.5,900.6 L1049.5,898.7 L1051.3,896.7 L1054.7,894.7 L1055.3,892.8 L1058.1,890.8 L1060.5,888.9 L1062.6,886.9 L1066.3,884.9 L1068.6,883.0 L1070.7,881.0 L1073.4,879.0 L1074.1,877.0 L1078.0,875.1 L1078.7,873.1 L1081.1,871.1 L1084.3,869.1 L1084.8,867.1 L1088.7,865.2 L1091.4,863.2 L1093.2,861.2 L1095.6,859.2 L1096.2,857.2 L1098.5,855.2 L1101.3,853.2 L1103.9,851.2 L1105.7,849.2 L1108.8,847.2 L1110.0,845.2 L1113.4,843.2 L1114.7,841.2 L1117.6,839.2 L1118.8,837.2 L1122.4,835.2 L1125.0,833.2 L1127.1,831.2 L1129.2,829.2 L1130.9,827.2 L1133.1,825.2 L1133.8,823.2 L1137.5,821.1 L1140.2,819.1 L1140.8,817.1 L1142.8,815.1 L1146.9,813.1 L1147.4,811.0 L1149.4,809.0 L1151.6,807.0 L1155.1,805.0 L1157.5,802.9 L1158.3,800.9 L1162.7,798.9 L1164.2,796.8 L1167.2,794.8 L1169.2,792.8 L1169.9,790.7 L1171.4,788.7 L1174.6,786.7 L1177.3,784.6 L1179.6,782.6 L1181.0,780.5 L1184.4,778.5 L1185.8,776.5 L1188.3,774.4 L1189.7,772.4 L1192.4,770.3 L1194.6,768.3 L1196.5,766.2 L1198.9,764.1 L1201.7,762.1 L1202.8,760.0 L1204.9,758.0 L1208.2,755.9 L1211.0,753.9 L1212.8,751.8 L1214.4,749.7 L1216.0,747.7 L1217.8,745.6 L1221.5,743.5 L1222.6,741.5 L1224.1,739.4 L1226.3,737.3 L1230.3,735.3 L1231.9,733.2 L1234.5,731.1 L1235.3,729.0 L1238.9,727.0 L1239.4,724.9 L1242.2,722.8 L1245.7,720.7 L1247.3,718.6 L1250.1,716.6 L1250.9,714.5 L1254.2,712.4 L1256.4,710.3 L1256.7,708.2 L1259.6,706.1 L1262.0,704.1 L1264.8,702.0 L1265.4,699.9 L1268.6,697.8 L1270.1,695.7 L1273.1,693.6 L1274.7,691.5 L1276.3,689.4 L1278.0,687.3 L1280.0,685.2 L1282.8,683.1 L1285.9,681.0 L1286.6,678.9 L1288.5,676.8 L1292.6,674.7 L1293.9,672.6 L1295.5,670.5 L1297.9,668.4 L1300.6,666.2 L1302.4,664.1 L1304.5,662.0 L1306.6,659.9 L1307.8,657.8 L1312.1,655.7 L1313.0,653.6 L1314.9,651.5 L1316.6,649.3 L1318.6,647.2 L1320.7,645.1 L1324.7,643.0 L1325.1,640.8 L1326.8,638.7 L1330.5,636.6 L1332.5,634.5 L1334.7,632.3 L1336.5,630.2 L1337.8,628.1 L1341.2,626.0 L1343.8,623.8 L1345.8,621.7 L1347.4,619.6 L1349.6,617.4 L1351.9,615.3 L1352.5,613.2 L1356.0,611.0 L1358.8,608.9 L1359.4,606.8 L1362.4,604.6 L1364.5,602.5 L1365.9,600.3 L1368.4,598.2 L1369.7,596.1 L1372.4,593.9 L1374.9,591.8 L1376.5,589.6 L1379.0,587.5 L1380.1,585.3 L1382.0,583.2 L1385.6,581.0 L1386.6,578.9 L1390.0,576.7 L1391.1,574.6 L1393.2,572.4 L1396.0,570.3 L1396.3,568.1 L1399.5,566.0 L1400.5,563.8 L1403.7,561.7 L1405.6,559.5 L1407.2,557.3 L1410.1,555.2 L1411.5,553.0 L1415.2,550.9 L1415.2,548.7 L1419.1,546.5 L1419.7,544.4 L1421.5,542.2 L1425.3,540.0 L1426.3,537.9 L1429.8,535.7 L1431.0,533.6 L1433.5,531.4 L1433.9,529.2 L1436.2,527.0 L1439.9,524.9 L1440.3,522.7 L1442.3,520.5 L1444.2,518.4 L1448.3,516.2 L1449.5,514.0 L1450.9,511.8 L1452.6,509.7 L1456.5,507.5 L1457.2,505.3 L1460.0,503.1 L1461.8,501.0 L1464.1,498.8 L1467.1,496.6 L1468.8,494.4 L1471.0,492.3 L1471.7,490.1 L1474.4,487.9 L1475.7,485.7 L1479.4,483.5 L1480.4,481.3 L1481.5,479.2 L1484.0,477.0 L1486.1,474.8 L1489.3,472.6 L1491.6,470.4 L1492.3,468.2 L1493.5,466.0 L1497.5,463.9 L1499.5,461.7 L1501.8,459.5 L1501.7,457.3 L1505.2,455.1 L1508.1,452.9 L1507.9,450.7 L1510.7,448.5 L1513.5,446.3 L1514.6,444.1 L1516.6,442.0 L1520.2,439.8 L1522.0,437.6 L1522.3,435.4 L1524.5,433.2 L1527.9,431.0 L1528.8,428.8 L1531.1,426.6 L1533.7,424.4 L1536.4,422.2 L1537.5,420.0 L1540.3,417.8 L1542.9,415.6 L1543.6,413.4 L1546.4,411.2 L1547.8,409.0 L1550.2,406.8 L1551.8,404.6 L1554.1,402.4 L1555.5,400.2 L1558.0,398.0 L1559.2,395.8 L1561.3,393.6 L1564.6,391.4 L1566.3,389.1 L1567.2,386.9 L1570.0,384.7 L1571.7,382.5 L1573.4,380.3 L1577.0,378.1 L1579.0,375.9 L1581.3,373.7 L1581.5,371.5 L1583.9,369.3 L1587.3,367.1 L1588.5,364.9 L1590.3,362.6 L1592.1,360.4 L1594.7,358.2 L1595.6,356.0 L1599.4,353.8 L1599.5,351.6 L1602.5,349.4 L1604.6,347.2 L1606.2,344.9 L1607.9,342.7 L1610.1,340.5 L1613.1,338.3 L1614.2,336.1 L1616.1,333.9 L1620.0,331.7 L1621.9,329.4 L1622.6,327.2 L1624.1,325.0 L1627.6,322.8 L1628.6,320.6 L1631.9,318.3 L1634.0,316.1 L1635.0,313.9 L1636.3,311.7 L1638.0,309.5 L1640.4,307.2 L1642.2,305.0 L1644.8,302.8 L1646.4,300.6 L1648.7,298.4 L1651.9,296.1 L1652.2,293.9 L1655.8,291.7 L1656.1,289.5 L1660.0,287.3 L1660.7,285.0 L1662.5,282.8 L1664.2,280.6 L1666.4,278.4 L1669.2,276.1 L1672.2,273.9 L1673.2,271.7 L1675.2,269.5 L1678.5,267.2 L1679.1,265.0 L1681.7,262.8 L1683.7,260.6 L1685.3,258.3 L1687.1,256.1 L1690.4,253.9 L1690.5,251.7 L1692.4,249.4 L1695.5,247.2 L1698.4,245.0 L1699.5,242.7 L1701.0,240.5 L1702.4,238.3 L1706.5,236.1 L1707.6,233.8 L1710.6,231.6 L1712.6,229.4 L1713.1,227.1 L1714.5,224.9 L1716.5,222.7 L1719.6,220.5 L1720.9,218.2 L1723.8,216.0 L1726.3,213.8 L1728.4,211.5 L1729.0,209.3 L1732.7,207.1 L1733.2,204.8 L1735.6,202.6 L1737.2,200.4 L1740.8,198.1 L1742.2,195.9 L1743.8,193.7 L1746.1,191.4 L1747.9,189.2 L1748.9,187.0 L1752.2,184.8 L1754.7,182.5 L1755.3,180.3 L1757.6,178.1 L1759.5,175.8 L1762.3,173.6 L1763.3,171.4 L1766.4,169.1 L1767.3,166.9 L1770.4,164.6 L1771.1,162.3 L1772.5,160.0 L1774.8,157.8 L1778.3,156.1 L1781.8,156.3 L1783.8,156.5 L1787.8,156.7 L1789.8,157.0 L1790.1,159.6 L1790.0,162.6 L1791.1,165.6 L1789.7,168.6 L1789.2,171.6 L1790.8,174.6 L1791.2,177.6 L1791.6,180.6 L1790.4,183.6 L1790.6,186.6 L1790.0,189.6 L1791.6,192.6 L1792.0,195.6 L1792.1,198.6 L1790.4,201.6 L1791.7,204.6 L1791.5,207.6 L1792.3,210.6 L1790.3,213.6 L1791.6,216.6 L1790.9,219.6 L1790.2,222.5 L1790.4,225.5 L1789.5,228.5 L1790.3,231.5 L1789.4,234.5 L1789.3,237.4 L1787.1,240.4 L1786.8,243.4 L1786.9,246.4 L1787.2,249.4 L1786.3,252.4 L1786.6,255.3 L1786.8,258.3 L1786.0,261.3 L1785.5,264.3 L1784.9,267.3 L1785.4,270.3 L1783.6,273.2 L1784.4,276.2 L1783.0,279.2 L1783.6,282.2 L1783.7,285.2 L1782.9,288.2 L1783.1,291.1 L1782.6,294.1 L1781.8,297.1 L1781.3,300.1 L1782.0,303.1 L1782.3,306.1 L1781.6,309.1 L1779.8,312.0 L1779.2,315.0 L1779.5,318.0 L1780.7,321.0 L1779.3,324.0 L1779.8,327.0 L1779.0,329.9 L1778.9,332.9 L1779.0,335.9 L1778.3,338.9 L1776.5,341.9 L1778.2,344.9 L1776.7,347.9 L1777.2,350.8 L1777.0,353.8 L1775.6,356.8 L1775.7,359.8 L1775.2,362.8 L1774.4,365.8 L1774.2,368.8 L1774.4,371.7 L1774.0,374.7 L1774.7,377.7 L1773.7,380.7 L1773.2,383.7 L1772.7,386.7 L1772.5,389.7 L1772.9,392.6 L1772.7,395.6 L1772.2,398.6 L1771.6,401.6 L1772.0,404.6 L1771.3,407.6 L1771.9,410.6 L1770.7,413.5 L1771.1,416.5 L1771.0,419.5 L1769.3,422.5 L1769.9,425.5 L1770.4,428.5 L1769.9,431.5 L1769.3,434.5 L1768.1,437.4 L1767.9,440.4 L1766.7,443.4 L1768.2,446.4 L1767.6,449.4 L1767.8,452.4 L1767.3,455.4 L1766.7,458.3 L1765.0,461.3 L1766.3,464.3 L1764.9,467.3 L1765.5,470.3 L1765.9,473.3 L1764.0,476.3 L1764.7,479.3 L1764.7,482.2 L1762.7,485.2 L1762.7,488.2 L1763.8,491.2 L1763.6,494.2 L1762.0,497.2 L1761.8,500.2 L1762.4,503.1 L1761.6,506.1 L1761.0,509.1 L1762.3,512.1 L1761.1,515.1 L1760.5,518.1 L1761.5,521.1 L1759.1,524.1 L1760.9,527.0 L1759.8,530.0 L1760.0,533.0 L1760.2,536.0 L1759.9,539.0 L1759.7,542.0 L1757.4,545.0 L1759.2,548.0 L1757.7,550.9 L1756.4,553.9 L1758.0,556.9 L1756.7,559.9 L1757.6,562.9 L1756.0,565.9 L1755.7,568.9 L1756.8,571.9 L1754.7,574.8 L1754.2,577.8 L1755.8,580.8 L1755.0,583.8 L1754.9,586.8 L1754.2,589.8 L1753.7,592.8 L1754.7,595.7 L1753.0,598.7 L1754.1,601.7 L1751.7,604.7 L1751.3,607.7 L1751.4,610.7 L1751.2,613.7 L1752.6,616.7 L1751.9,619.6 L1750.3,622.6 L1751.2,625.6 L1751.1,628.6 L1751.3,631.6 L1749.3,634.6 L1748.7,637.6 L1750.5,640.5 L1748.5,643.5 L1748.3,646.5 L1747.6,649.5 L1749.2,652.5 L1746.8,655.5 L1748.6,658.5 L1747.4,661.5 L1746.9,664.4 L1746.2,667.4 L1746.4,670.4 L1745.6,673.4 L1746.4,676.4 L1745.8,679.4 L1746.2,682.4 L1745.4,685.3 L1745.0,688.3 L1744.4,691.3 L1743.2,694.3 L1743.9,697.3 L1742.7,700.3 L1742.7,703.3 L1743.0,706.2 L1741.8,709.2 L1742.8,712.2 L1741.3,715.2 L1742.4,718.2 L1742.3,721.2 L1740.4,724.1 L1740.0,727.1 L1739.6,730.1 L1739.9,733.1 L1740.3,736.1 L1740.6,739.1 L1739.0,742.1 L1738.8,745.0 L1738.0,748.0 L1738.7,751.0 L1737.2,754.0 L1738.1,757.0 L1736.9,760.0 L1738.2,762.9 L1738.1,765.9 L1735.9,768.9 L1736.8,771.9 L1735.8,774.9 L1736.2,777.9 L1735.5,780.8 L1734.3,783.8 L1734.2,786.8 L1733.5,789.8 L1734.3,792.8 L1734.9,795.8 L1732.3,798.7 L1733.2,801.7 L1733.3,804.7 L1732.2,807.7 L1731.0,810.7 L1732.6,813.7 L1731.4,816.6 L1731.9,819.6 L1731.3,822.6 L1729.8,825.6 L1730.8,828.6 L1730.3,831.6 L1729.5,834.5 L1729.0,837.5 L1728.6,840.5 L1728.7,843.5 L1727.7,846.5 L1727.5,849.4 L1728.5,852.4 L1727.8,855.4 L1726.9,858.4 L1726.9,861.4 L1725.9,864.3 L1724.6,867.3 L1724.8,870.3 L1725.9,873.3 L1725.3,876.3 L1724.4,879.2 L1723.4,882.2 L1723.3,885.2 L1722.2,888.2 L1724.0,891.2 L1721.5,894.1 L1721.8,897.1 L1723.0,900.1 L1721.6,903.1 L1722.1,906.1 L1720.2,909.0 L1720.4,912.0 L1720.0,915.0 L1719.4,918.0 L1718.8,920.9 L1720.2,923.9 L1718.6,926.9 L1719.5,929.9 L1717.4,932.9 L1717.4,935.8 L1717.7,938.8 L1717.2,941.8 L1716.2,944.8 L1717.0,947.7 L1714.9,950.7 L1715.6,953.7 L1715.1,956.7 L1715.3,959.6 L1713.3,962.6 L1714.0,965.6 L1712.2,968.6 L1713.3,971.5 L1712.0,974.5 L1712.6,977.5 L1712.1,980.5 L1712.0,983.4 L1712.1,986.4 L1711.5,989.4 L1710.9,992.4 L1708.6,995.3 L1709.1,998.3 L1709.4,1001.3 L1709.1,1004.2 L1708.5,1007.2 L1706.7,1010.2 L1706.9,1013.2 L1706.7,1016.1 L1706.9,1019.1 L1705.5,1022.1 L1705.7,1025.0 L1705.1,1028.0 L1703.9,1031.0 L1704.4,1034.0 L1704.3,1036.9 L1703.4,1039.9 L1702.8,1042.9 L1701.8,1045.8 L1701.4,1048.8 L1702.7,1051.8 L1701.4,1054.7 L1701.8,1057.7 L1700.1,1060.7 L1700.2,1063.6 L1699.2,1066.6 L1700.3,1069.6 L1698.8,1072.5 L1698.8,1075.5 L1698.2,1078.5 L1698.0,1081.4 L1697.6,1084.4 L1696.0,1087.4 L1695.1,1090.3 L1696.2,1093.3 L1695.3,1096.3 L1694.6,1099.2 L1694.1,1102.2 L1695.0,1105.2 L1693.8,1108.1 L1692.7,1111.1 L1691.6,1114.1 L1690.9,1117.0 L1691.4,1120.0 L1691.6,1122.9 L1689.7,1125.9 L1690.1,1128.9 L1688.7,1131.8 L1689.0,1134.8 L1689.4,1137.7 L1689.0,1140.7 L1686.7,1143.7 L1687.8,1146.6 L1686.6,1149.6 L1685.8,1152.5 L1686.1,1155.5 L1685.2,1158.5 L1683.9,1161.4 L1683.5,1164.4 L1683.5,1167.3 L1682.0,1170.3 L1683.4,1173.2 L1683.2,1176.2 L1681.3,1179.2 L1681.6,1182.1 L1679.8,1185.1 L1679.3,1188.0 L1680.3,1191.0 L1678.3,1193.9 L1677.4,1196.9 L1678.3,1199.8 L1676.5,1202.8 L1676.4,1205.7 L1676.2,1208.7 L1674.6,1211.6 L1676.2,1214.6 L1675.7,1217.5 L1674.9,1220.5 L1672.8,1223.4 L1673.2,1226.4 L1672.6,1229.3 L1671.5,1232.3 L1671.0,1235.2 L1671.9,1238.2 L1669.2,1241.1 L1669.7,1244.1 L1669.4,1247.0 L1668.1,1250.0 L1668.0,1252.9 L1667.8,1255.9 L1667.2,1258.8 L1666.5,1261.7 L1665.3,1264.7 L1665.7,1267.6 L1665.1,1270.6 L1664.4,1273.5 L1662.4,1276.5 L1662.0,1279.4 L1661.3,1282.3 L1661.9,1285.3 L1661.2,1288.2 L1660.7,1291.2 L1658.9,1294.1 L1658.6,1297.0 L1659.4,1300.0 L1657.1,1302.9 L1656.2,1305.8 L1655.5,1308.8 L1656.7,1311.7 L1654.3,1314.6 L1654.0,1317.6 L1654.7,1320.5 L1654.4,1323.4 L1652.8,1326.4 L1651.4,1329.3 L1651.7,1332.2 L1650.5,1335.2 L1650.1,1338.1 L1650.8,1341.0 L1648.3,1344.0 L1647.2,1346.9 L1648.2,1349.8 L1646.6,1352.7 L1645.9,1355.7 L1645.1,1358.6 L1646.0,1361.5 L1643.5,1364.5 L1643.9,1367.4 L1643.8,1370.3 L1643.0,1373.2 L1642.9,1376.2 L1641.0,1379.1 L1640.6,1382.0 L1639.3,1384.9 L1640.0,1387.8 L1638.3,1390.8 L1637.6,1393.7 L1636.9,1396.6" stroke="#808000"/>
</g>
<g font-family="'Liberation Serif',serif" font-size="85" fill="#000">
<text x="246.2" y="1414.8" text-anchor="end">0</text>
<text x="246.2" y="1106.7" text-anchor="end">50</text>
<text x="246.2" y="798.6" text-anchor="end">100</text>
<text x="246.2" y="490.5" text-anchor="end">150</text>
<text x="246.2" y="182.4" text-anchor="end">200</text>
<text x="274.3" y="1480.6" text-anchor="middle" font-size="84">0</text>
<text x="577.9" y="1480.6" text-anchor="middle" font-size="84">500</text>
<text x="881.6" y="1480.6" text-anchor="middle" font-size="84">1000</text>
<text x="1185.2" y="1480.6" text-anchor="middle" font-size="84">1500</text>
<text x="1488.9" y="1480.6" text-anchor="middle" font-size="84">2000</text>
<text x="1792.6" y="1480.6" text-anchor="middle" font-size="84">2500</text>
<text x="2096.2" y="1480.6" text-anchor="middle" font-size="84">3000</text>
</g>
<text font-family="'Liberation Serif',serif" font-size="81.7" fill="#000" transform="translate(757.2,1598) scale(1,1.045)">Indentation depth (nm)</text>
<text font-family="'Liberation Serif',serif" font-size="83.3" fill="#000" transform="translate(87,1130.5) rotate(-90) scale(1,1.035)">Indentation load (mN)</text>
<text font-family="'Liberation Serif',serif" font-size="81.8" fill="#000" x="367.7" y="160.3">Thickness reduction (%):</text>
<line x1="436" y1="272.5" x2="625" y2="272.5" stroke="#000000" stroke-width="9.5" stroke-linecap="butt"/>
<text font-family="'Liberation Serif',serif" font-size="84" fill="#000" x="640" y="301.1">0</text>
<line x1="436" y1="373" x2="625" y2="373" stroke="#ff0000" stroke-width="11" stroke-linecap="butt"/>
<text font-family="'Liberation Serif',serif" font-size="84" fill="#000" x="640" y="401.6">10</text>
<line x1="436" y1="473.5" x2="625" y2="473.5" stroke="#0000ff" stroke-width="9.5" stroke-linecap="butt"/>
<text font-family="'Liberation Serif',serif" font-size="84" fill="#000" x="640" y="502.1">30</text>
<line x1="436" y1="572.5" x2="625" y2="572.5" stroke="#008080" stroke-width="9.5" stroke-linecap="butt"/>
<text font-family="'Liberation Serif',serif" font-size="84" fill="#000" x="640" y="601.1">50</text>
<line x1="436" y1="674.8" x2="625" y2="674.8" stroke="#ff00ff" stroke-width="9.5" stroke-linecap="butt"/>
<text font-family="'Liberation Serif',serif" font-size="84" fill="#000" x="640" y="703.4">70</text>
<line x1="436" y1="773.5" x2="625" y2="773.5" stroke="#808000" stroke-width="9.5" stroke-linecap="butt"/>
<text font-family="'Liberation Serif',serif" font-size="84" fill="#000" x="640" y="802.1">90</text>
</svg>
</body></html>
